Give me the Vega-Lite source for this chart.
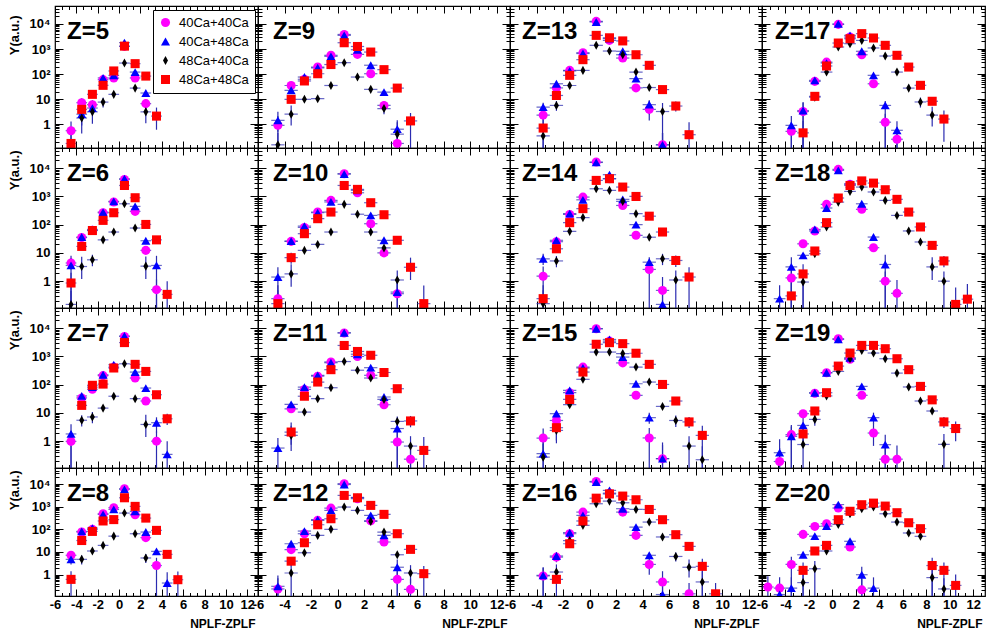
{
"$schema": "https://vega.github.io/schema/vega-lite/v6.json",
"background": "white",
"autosize": {"type": "pad"},
"padding": {"left": 7, "top": 4, "right": 4, "bottom": 2},
"config": {
  "view": {"stroke": "#000", "strokeWidth": 1.2},
  "font": "Liberation Sans",
  "axis": {"domain": false, "grid": false, "tickColor": "#000", "tickWidth": 1, "labelFont": "Liberation Sans", "labelFontWeight": "bold", "labelFontSize": 13, "labelColor": "#000", "titleFont": "Liberation Sans", "titleFontWeight": "bold", "titleFontSize": 13, "titleColor": "#000", "labelFlush": false, "labelOverlap": false},
  "title": {"font": "Liberation Sans", "fontSize": 24, "fontWeight": "bold", "color": "#000"},
  "legend": {"labelFont": "Liberation Sans", "labelFontSize": 13, "labelColor": "#000", "strokeColor": "#000", "fillColor": "#fff", "padding": 6, "rowPadding": 5, "symbolSize": 82, "labelOffset": 7, "symbolStrokeWidth": 0, "symbolOpacity": 1}
},
"data": {"values": [
{"z":5,"s":"40Ca+40Ca","x":-4.5,"y":0.55,"lo":0.05,"hi":1.27},{"z":5,"s":"40Ca+40Ca","x":-3.5,"y":7.2,"lo":4.3,"hi":10.8},{"z":5,"s":"40Ca+40Ca","x":-2.5,"y":6.0,"lo":3.6,"hi":9},{"z":5,"s":"40Ca+40Ca","x":-1.5,"y":60},{"z":5,"s":"40Ca+40Ca","x":-0.5,"y":69},{"z":5,"s":"40Ca+40Ca","x":0.5,"y":1270},{"z":5,"s":"40Ca+40Ca","x":1.5,"y":70},{"z":5,"s":"40Ca+40Ca","x":2.5,"y":6.6,"lo":4,"hi":9.9},
{"z":5,"s":"40Ca+48Ca","x":-3.5,"y":2.5,"lo":0.88,"hi":5.5},{"z":5,"s":"40Ca+48Ca","x":-2.5,"y":4.4,"lo":2.6,"hi":6.6},{"z":5,"s":"40Ca+48Ca","x":-1.5,"y":70},{"z":5,"s":"40Ca+48Ca","x":-0.5,"y":88},{"z":5,"s":"40Ca+48Ca","x":0.5,"y":1800},{"z":5,"s":"40Ca+48Ca","x":1.5,"y":120},{"z":5,"s":"40Ca+48Ca","x":2.5,"y":17.5},
{"z":5,"s":"48Ca+40Ca","x":-3.5,"y":1.76,"lo":0.42,"hi":7.5},{"z":5,"s":"48Ca+40Ca","x":-2.5,"y":3.1,"lo":1.05,"hi":7.5},{"z":5,"s":"48Ca+40Ca","x":-1.5,"y":7.6,"lo":4.6,"hi":11.4},{"z":5,"s":"48Ca+40Ca","x":-0.5,"y":15.5},{"z":5,"s":"48Ca+40Ca","x":0.5,"y":275},{"z":5,"s":"48Ca+40Ca","x":1.5,"y":27.5},{"z":5,"s":"48Ca+40Ca","x":2.5,"y":3.1,"lo":1.1,"hi":6.8},
{"z":5,"s":"48Ca+48Ca","x":-4.5,"y":0.17,"lo":0.05,"hi":0.51},{"z":5,"s":"48Ca+48Ca","x":-3.5,"y":3.9,"lo":1.4,"hi":8.6},{"z":5,"s":"48Ca+48Ca","x":-2.5,"y":15.5},{"z":5,"s":"48Ca+48Ca","x":-1.5,"y":35.5},{"z":5,"s":"48Ca+48Ca","x":-0.5,"y":133},{"z":5,"s":"48Ca+48Ca","x":0.5,"y":1300},{"z":5,"s":"48Ca+48Ca","x":1.5,"y":260},{"z":5,"s":"48Ca+48Ca","x":2.5,"y":83},{"z":5,"s":"48Ca+48Ca","x":3.5,"y":2.1,"lo":0.6,"hi":4.6},
{"z":9,"s":"40Ca+40Ca","x":-4.5,"y":0.9,"lo":0.05,"hi":2.1},{"z":9,"s":"40Ca+40Ca","x":-3.5,"y":35},{"z":9,"s":"40Ca+40Ca","x":-2.5,"y":62},{"z":9,"s":"40Ca+40Ca","x":-1.5,"y":190},{"z":9,"s":"40Ca+40Ca","x":-0.5,"y":560},{"z":9,"s":"40Ca+40Ca","x":0.5,"y":3800},{"z":9,"s":"40Ca+40Ca","x":1.5,"y":610},{"z":9,"s":"40Ca+40Ca","x":2.5,"y":103},{"z":9,"s":"40Ca+40Ca","x":3.5,"y":5.6,"lo":3.4,"hi":8.4},{"z":9,"s":"40Ca+40Ca","x":4.5,"y":0.17,"lo":0.05,"hi":0.51},
{"z":9,"s":"40Ca+48Ca","x":-4.5,"y":1.42,"lo":0.5,"hi":3.1},{"z":9,"s":"40Ca+48Ca","x":-3.5,"y":22.5},{"z":9,"s":"40Ca+48Ca","x":-2.5,"y":76},{"z":9,"s":"40Ca+48Ca","x":-1.5,"y":178},{"z":9,"s":"40Ca+48Ca","x":-0.5,"y":510},{"z":9,"s":"40Ca+48Ca","x":0.5,"y":3500},{"z":9,"s":"40Ca+48Ca","x":1.5,"y":935},{"z":9,"s":"40Ca+48Ca","x":2.5,"y":225},{"z":9,"s":"40Ca+48Ca","x":3.5,"y":19},{"z":9,"s":"40Ca+48Ca","x":4.5,"y":0.63,"lo":0.05,"hi":1.45},
{"z":9,"s":"48Ca+40Ca","x":-4.5,"y":0.15,"lo":0.05,"hi":0.45},{"z":9,"s":"48Ca+40Ca","x":-3.5,"y":2.5,"lo":0.88,"hi":5.5},{"z":9,"s":"48Ca+40Ca","x":-2.5,"y":9.8},{"z":9,"s":"48Ca+40Ca","x":-1.5,"y":10.4},{"z":9,"s":"48Ca+40Ca","x":-0.5,"y":35},{"z":9,"s":"48Ca+40Ca","x":0.5,"y":285},{"z":9,"s":"48Ca+40Ca","x":1.5,"y":76},{"z":9,"s":"48Ca+40Ca","x":2.5,"y":24.5},{"z":9,"s":"48Ca+40Ca","x":3.5,"y":4.2,"lo":2.5,"hi":6.3},{"z":9,"s":"48Ca+40Ca","x":4.5,"y":0.4,"lo":0.05,"hi":1.2},
{"z":9,"s":"48Ca+48Ca","x":-3.5,"y":9.8},{"z":9,"s":"48Ca+48Ca","x":-2.5,"y":53},{"z":9,"s":"48Ca+48Ca","x":-1.5,"y":103},{"z":9,"s":"48Ca+48Ca","x":-0.5,"y":240},{"z":9,"s":"48Ca+48Ca","x":0.5,"y":1780},{"z":9,"s":"48Ca+48Ca","x":1.5,"y":1260},{"z":9,"s":"48Ca+48Ca","x":2.5,"y":755},{"z":9,"s":"48Ca+48Ca","x":3.5,"y":150},{"z":9,"s":"48Ca+48Ca","x":4.5,"y":27.5},{"z":9,"s":"48Ca+48Ca","x":5.5,"y":1.35,"lo":0.05,"hi":2.8},
{"z":13,"s":"40Ca+40Ca","x":-3.5,"y":2.3,"lo":0.8,"hi":5.1},{"z":13,"s":"40Ca+40Ca","x":-2.5,"y":28},{"z":13,"s":"40Ca+40Ca","x":-1.5,"y":140},{"z":13,"s":"40Ca+40Ca","x":-0.5,"y":710},{"z":13,"s":"40Ca+40Ca","x":0.5,"y":12700},{"z":13,"s":"40Ca+40Ca","x":1.5,"y":2200},{"z":13,"s":"40Ca+40Ca","x":2.5,"y":435},{"z":13,"s":"40Ca+40Ca","x":3.5,"y":28},{"z":13,"s":"40Ca+40Ca","x":4.5,"y":3.9,"lo":1.4,"hi":8.6},{"z":13,"s":"40Ca+40Ca","x":5.5,"y":0.15,"lo":0.05,"hi":0.45},
{"z":13,"s":"40Ca+48Ca","x":-3.5,"y":4.8,"lo":2.9,"hi":7.2},{"z":13,"s":"40Ca+48Ca","x":-2.5,"y":41},{"z":13,"s":"40Ca+48Ca","x":-1.5,"y":133},{"z":13,"s":"40Ca+48Ca","x":-0.5,"y":660},{"z":13,"s":"40Ca+48Ca","x":0.5,"y":12000},{"z":13,"s":"40Ca+48Ca","x":1.5,"y":2600},{"z":13,"s":"40Ca+48Ca","x":2.5,"y":810},{"z":13,"s":"40Ca+48Ca","x":3.5,"y":66},{"z":13,"s":"40Ca+48Ca","x":4.5,"y":6,"lo":2.5,"hi":9},{"z":13,"s":"40Ca+48Ca","x":5.5,"y":0.15,"lo":0.05,"hi":0.45},
{"z":13,"s":"48Ca+40Ca","x":-3.5,"y":0.34,"lo":0.05,"hi":1.0},{"z":13,"s":"48Ca+40Ca","x":-2.5,"y":5.6,"lo":3.4,"hi":8.4},{"z":13,"s":"48Ca+40Ca","x":-1.5,"y":35},{"z":13,"s":"48Ca+40Ca","x":-0.5,"y":140},{"z":13,"s":"48Ca+40Ca","x":0.5,"y":1400},{"z":13,"s":"48Ca+40Ca","x":1.5,"y":830},{"z":13,"s":"48Ca+40Ca","x":2.5,"y":590},{"z":13,"s":"48Ca+40Ca","x":3.5,"y":120},{"z":13,"s":"48Ca+40Ca","x":4.5,"y":29},{"z":13,"s":"48Ca+40Ca","x":5.5,"y":3.2,"lo":0.05,"hi":7},
{"z":13,"s":"48Ca+48Ca","x":-3.5,"y":0.7,"lo":0.05,"hi":1.6},{"z":13,"s":"48Ca+48Ca","x":-2.5,"y":14},{"z":13,"s":"48Ca+48Ca","x":-1.5,"y":89},{"z":13,"s":"48Ca+48Ca","x":-0.5,"y":375},{"z":13,"s":"48Ca+48Ca","x":0.5,"y":3500},{"z":13,"s":"48Ca+48Ca","x":1.5,"y":2800},{"z":13,"s":"48Ca+48Ca","x":2.5,"y":2100},{"z":13,"s":"48Ca+48Ca","x":3.5,"y":590},{"z":13,"s":"48Ca+48Ca","x":4.5,"y":223},{"z":13,"s":"48Ca+48Ca","x":5.5,"y":24},{"z":13,"s":"48Ca+48Ca","x":6.5,"y":5.3,"lo":3.2,"hi":8},{"z":13,"s":"48Ca+48Ca","x":7.5,"y":0.38,"lo":0.05,"hi":1.2},
{"z":17,"s":"40Ca+40Ca","x":-3.5,"y":0.52,"lo":0.05,"hi":1.2},{"z":17,"s":"40Ca+40Ca","x":-2.5,"y":3.2,"lo":0.05,"hi":7},{"z":17,"s":"40Ca+40Ca","x":-1.5,"y":51},{"z":17,"s":"40Ca+40Ca","x":-0.5,"y":300},{"z":17,"s":"40Ca+40Ca","x":0.5,"y":9600},{"z":17,"s":"40Ca+40Ca","x":1.5,"y":3000},{"z":17,"s":"40Ca+40Ca","x":2.5,"y":590},{"z":17,"s":"40Ca+40Ca","x":3.5,"y":41},{"z":17,"s":"40Ca+40Ca","x":4.5,"y":1.2,"lo":0.05,"hi":2.6},{"z":17,"s":"40Ca+40Ca","x":5.5,"y":0.25,"lo":0.05,"hi":0.75},
{"z":17,"s":"40Ca+48Ca","x":-3.5,"y":0.9,"lo":0.05,"hi":2.1},{"z":17,"s":"40Ca+48Ca","x":-2.5,"y":3.5,"lo":0.05,"hi":7.7},{"z":17,"s":"40Ca+48Ca","x":-1.5,"y":56},{"z":17,"s":"40Ca+48Ca","x":-0.5,"y":275},{"z":17,"s":"40Ca+48Ca","x":0.5,"y":10000},{"z":17,"s":"40Ca+48Ca","x":1.5,"y":3500},{"z":17,"s":"40Ca+48Ca","x":2.5,"y":810},{"z":17,"s":"40Ca+48Ca","x":3.5,"y":89},{"z":17,"s":"40Ca+48Ca","x":4.5,"y":5.6,"lo":0.05,"hi":8.4},{"z":17,"s":"40Ca+48Ca","x":5.5,"y":0.57,"lo":0.05,"hi":1.3},
{"z":17,"s":"48Ca+40Ca","x":-1.5,"y":12},{"z":17,"s":"48Ca+40Ca","x":-0.5,"y":120},{"z":17,"s":"48Ca+40Ca","x":0.5,"y":1200},{"z":17,"s":"48Ca+40Ca","x":1.5,"y":1630},{"z":17,"s":"48Ca+40Ca","x":2.5,"y":2200},{"z":17,"s":"48Ca+40Ca","x":3.5,"y":1100},{"z":17,"s":"48Ca+40Ca","x":4.5,"y":525},{"z":17,"s":"48Ca+40Ca","x":5.5,"y":120},{"z":17,"s":"48Ca+40Ca","x":6.5,"y":27.5},{"z":17,"s":"48Ca+40Ca","x":7.5,"y":7.7,"lo":4.6,"hi":11.5},{"z":17,"s":"48Ca+40Ca","x":8.5,"y":2.3,"lo":0.8,"hi":5},
{"z":17,"s":"48Ca+48Ca","x":-2.5,"y":0.45,"lo":0.05,"hi":1.35},{"z":17,"s":"48Ca+48Ca","x":-1.5,"y":12.9},{"z":17,"s":"48Ca+48Ca","x":-0.5,"y":210},{"z":17,"s":"48Ca+48Ca","x":0.5,"y":1730},{"z":17,"s":"48Ca+48Ca","x":1.5,"y":2580},{"z":17,"s":"48Ca+48Ca","x":2.5,"y":4100},{"z":17,"s":"48Ca+48Ca","x":3.5,"y":2750},{"z":17,"s":"48Ca+48Ca","x":4.5,"y":1400},{"z":17,"s":"48Ca+48Ca","x":5.5,"y":560},{"z":17,"s":"48Ca+48Ca","x":6.5,"y":190},{"z":17,"s":"48Ca+48Ca","x":7.5,"y":35.5},{"z":17,"s":"48Ca+48Ca","x":8.5,"y":8.2},{"z":17,"s":"48Ca+48Ca","x":9.5,"y":1.6,"lo":0.2,"hi":3.5},
{"z":6,"s":"40Ca+40Ca","x":-4.5,"y":4.4,"lo":2.6,"hi":6.6},{"z":6,"s":"40Ca+40Ca","x":-3.5,"y":35},{"z":6,"s":"40Ca+40Ca","x":-2.5,"y":63},{"z":6,"s":"40Ca+40Ca","x":-1.5,"y":265},{"z":6,"s":"40Ca+40Ca","x":-0.5,"y":640},{"z":6,"s":"40Ca+40Ca","x":0.5,"y":4000},{"z":6,"s":"40Ca+40Ca","x":1.5,"y":295},{"z":6,"s":"40Ca+40Ca","x":2.5,"y":12.3},{"z":6,"s":"40Ca+40Ca","x":3.5,"y":0.5,"lo":0.05,"hi":1.15},
{"z":6,"s":"40Ca+48Ca","x":-4.5,"y":3.6,"lo":0.05,"hi":7.9},{"z":6,"s":"40Ca+48Ca","x":-3.5,"y":36.5},{"z":6,"s":"40Ca+48Ca","x":-2.5,"y":68},{"z":6,"s":"40Ca+48Ca","x":-1.5,"y":280},{"z":6,"s":"40Ca+48Ca","x":-0.5,"y":670},{"z":6,"s":"40Ca+48Ca","x":0.5,"y":4250},{"z":6,"s":"40Ca+48Ca","x":1.5,"y":445},{"z":6,"s":"40Ca+48Ca","x":2.5,"y":27},{"z":6,"s":"40Ca+48Ca","x":3.5,"y":3.6,"lo":0.05,"hi":7.9},
{"z":6,"s":"48Ca+40Ca","x":-4.5,"y":0.15,"lo":0.05,"hi":0.45},{"z":6,"s":"48Ca+40Ca","x":-3.5,"y":3.3,"lo":1.2,"hi":7.3},{"z":6,"s":"48Ca+40Ca","x":-2.5,"y":5.7,"lo":3.4,"hi":8.6},{"z":6,"s":"48Ca+40Ca","x":-1.5,"y":29},{"z":6,"s":"48Ca+40Ca","x":-0.5,"y":55},{"z":6,"s":"48Ca+40Ca","x":0.5,"y":550},{"z":6,"s":"48Ca+40Ca","x":1.5,"y":76},{"z":6,"s":"48Ca+40Ca","x":2.5,"y":3.4,"lo":1.2,"hi":7.5},
{"z":6,"s":"48Ca+48Ca","x":-4.5,"y":0.86,"lo":0.05,"hi":2},{"z":6,"s":"48Ca+48Ca","x":-3.5,"y":17},{"z":6,"s":"48Ca+48Ca","x":-2.5,"y":62},{"z":6,"s":"48Ca+48Ca","x":-1.5,"y":142},{"z":6,"s":"48Ca+48Ca","x":-0.5,"y":265},{"z":6,"s":"48Ca+48Ca","x":0.5,"y":2450},{"z":6,"s":"48Ca+48Ca","x":1.5,"y":900},{"z":6,"s":"48Ca+48Ca","x":2.5,"y":102},{"z":6,"s":"48Ca+48Ca","x":3.5,"y":29},{"z":6,"s":"48Ca+48Ca","x":4.5,"y":0.34,"lo":0.05,"hi":1.0},
{"z":10,"s":"40Ca+40Ca","x":-4.5,"y":0.24,"lo":0.05,"hi":0.72},{"z":10,"s":"40Ca+40Ca","x":-3.5,"y":25.6},{"z":10,"s":"40Ca+40Ca","x":-2.5,"y":80},{"z":10,"s":"40Ca+40Ca","x":-1.5,"y":280},{"z":10,"s":"40Ca+40Ca","x":-0.5,"y":725},{"z":10,"s":"40Ca+40Ca","x":0.5,"y":6400},{"z":10,"s":"40Ca+40Ca","x":1.5,"y":1350},{"z":10,"s":"40Ca+40Ca","x":2.5,"y":108},{"z":10,"s":"40Ca+40Ca","x":3.5,"y":10},{"z":10,"s":"40Ca+40Ca","x":4.5,"y":0.36,"lo":0.05,"hi":1.08},
{"z":10,"s":"40Ca+48Ca","x":-4.5,"y":1.4,"lo":0.05,"hi":3.1},{"z":10,"s":"40Ca+48Ca","x":-3.5,"y":26},{"z":10,"s":"40Ca+48Ca","x":-2.5,"y":89},{"z":10,"s":"40Ca+48Ca","x":-1.5,"y":265},{"z":10,"s":"40Ca+48Ca","x":-0.5,"y":640},{"z":10,"s":"40Ca+48Ca","x":0.5,"y":6200},{"z":10,"s":"40Ca+48Ca","x":1.5,"y":1650},{"z":10,"s":"40Ca+48Ca","x":2.5,"y":213},{"z":10,"s":"40Ca+48Ca","x":3.5,"y":28},{"z":10,"s":"40Ca+48Ca","x":4.5,"y":0.41,"lo":0.05,"hi":1.2},
{"z":10,"s":"48Ca+40Ca","x":-3.5,"y":1.8,"lo":0.63,"hi":4},{"z":10,"s":"48Ca+40Ca","x":-2.5,"y":12.3},{"z":10,"s":"48Ca+40Ca","x":-1.5,"y":20},{"z":10,"s":"48Ca+40Ca","x":-0.5,"y":55},{"z":10,"s":"48Ca+40Ca","x":0.5,"y":525},{"z":10,"s":"48Ca+40Ca","x":1.5,"y":235},{"z":10,"s":"48Ca+40Ca","x":2.5,"y":55},{"z":10,"s":"48Ca+40Ca","x":3.5,"y":15},{"z":10,"s":"48Ca+40Ca","x":4.5,"y":1.1,"lo":0.39,"hi":2.4},
{"z":10,"s":"48Ca+48Ca","x":-4.5,"y":0.16,"lo":0.05,"hi":0.48},{"z":10,"s":"48Ca+48Ca","x":-3.5,"y":6.8,"lo":4.1,"hi":10.2},{"z":10,"s":"48Ca+48Ca","x":-2.5,"y":48},{"z":10,"s":"48Ca+48Ca","x":-1.5,"y":163},{"z":10,"s":"48Ca+48Ca","x":-0.5,"y":280},{"z":10,"s":"48Ca+48Ca","x":0.5,"y":2450},{"z":10,"s":"48Ca+48Ca","x":1.5,"y":1780},{"z":10,"s":"48Ca+48Ca","x":2.5,"y":600},{"z":10,"s":"48Ca+48Ca","x":3.5,"y":225},{"z":10,"s":"48Ca+48Ca","x":4.5,"y":28},{"z":10,"s":"48Ca+48Ca","x":5.5,"y":3.1,"lo":1.1,"hi":6.8},{"z":10,"s":"48Ca+48Ca","x":6.5,"y":0.16,"lo":0.05,"hi":0.7},
{"z":14,"s":"40Ca+40Ca","x":-3.5,"y":1.5,"lo":0.05,"hi":3.3},{"z":14,"s":"40Ca+40Ca","x":-2.5,"y":25},{"z":14,"s":"40Ca+40Ca","x":-1.5,"y":230},{"z":14,"s":"40Ca+40Ca","x":-0.5,"y":950},{"z":14,"s":"40Ca+40Ca","x":0.5,"y":16500},{"z":14,"s":"40Ca+40Ca","x":1.5,"y":4250},{"z":14,"s":"40Ca+40Ca","x":2.5,"y":480},{"z":14,"s":"40Ca+40Ca","x":3.5,"y":42},{"z":14,"s":"40Ca+40Ca","x":4.5,"y":2.6,"lo":0.05,"hi":5.7},{"z":14,"s":"40Ca+40Ca","x":5.5,"y":0.47,"lo":0.05,"hi":1.4},
{"z":14,"s":"40Ca+48Ca","x":-3.5,"y":6.2,"lo":3.7,"hi":9.3},{"z":14,"s":"40Ca+48Ca","x":-2.5,"y":28},{"z":14,"s":"40Ca+48Ca","x":-1.5,"y":245},{"z":14,"s":"40Ca+48Ca","x":-0.5,"y":760},{"z":14,"s":"40Ca+48Ca","x":0.5,"y":16000},{"z":14,"s":"40Ca+48Ca","x":1.5,"y":5900},{"z":14,"s":"40Ca+48Ca","x":2.5,"y":790},{"z":14,"s":"40Ca+48Ca","x":3.5,"y":100},{"z":14,"s":"40Ca+48Ca","x":4.5,"y":4.7,"lo":2.8,"hi":7},{"z":14,"s":"40Ca+48Ca","x":5.5,"y":0.15,"lo":0.05,"hi":0.45},
{"z":14,"s":"48Ca+40Ca","x":-3.5,"y":0.16,"lo":0.05,"hi":0.48},{"z":14,"s":"48Ca+40Ca","x":-2.5,"y":5.2,"lo":3.1,"hi":7.8},{"z":14,"s":"48Ca+40Ca","x":-1.5,"y":58},{"z":14,"s":"48Ca+40Ca","x":-0.5,"y":178},{"z":14,"s":"48Ca+40Ca","x":0.5,"y":1870},{"z":14,"s":"48Ca+40Ca","x":1.5,"y":1640},{"z":14,"s":"48Ca+40Ca","x":2.5,"y":670},{"z":14,"s":"48Ca+40Ca","x":3.5,"y":245},{"z":14,"s":"48Ca+40Ca","x":4.5,"y":36},{"z":14,"s":"48Ca+40Ca","x":5.5,"y":6.2,"lo":3.7,"hi":9.3},{"z":14,"s":"48Ca+40Ca","x":6.5,"y":1.1,"lo":0.05,"hi":2.4},
{"z":14,"s":"48Ca+48Ca","x":-3.5,"y":0.24,"lo":0.05,"hi":0.72},{"z":14,"s":"48Ca+48Ca","x":-2.5,"y":14},{"z":14,"s":"48Ca+48Ca","x":-1.5,"y":118},{"z":14,"s":"48Ca+48Ca","x":-0.5,"y":370},{"z":14,"s":"48Ca+48Ca","x":0.5,"y":3700},{"z":14,"s":"48Ca+48Ca","x":1.5,"y":4250},{"z":14,"s":"48Ca+48Ca","x":2.5,"y":2150},{"z":14,"s":"48Ca+48Ca","x":3.5,"y":1000},{"z":14,"s":"48Ca+48Ca","x":4.5,"y":200},{"z":14,"s":"48Ca+48Ca","x":5.5,"y":55},{"z":14,"s":"48Ca+48Ca","x":6.5,"y":5.4,"lo":3.2,"hi":8.1},{"z":14,"s":"48Ca+48Ca","x":7.5,"y":1.4,"lo":0.05,"hi":3.1},
{"z":18,"s":"40Ca+40Ca","x":-3.5,"y":1.3,"lo":0.05,"hi":2.9},{"z":18,"s":"40Ca+40Ca","x":-2.5,"y":21},{"z":18,"s":"40Ca+40Ca","x":-1.5,"y":60},{"z":18,"s":"40Ca+40Ca","x":-0.5,"y":525},{"z":18,"s":"40Ca+40Ca","x":0.5,"y":9100},{"z":18,"s":"40Ca+40Ca","x":1.5,"y":2700},{"z":18,"s":"40Ca+40Ca","x":2.5,"y":350},{"z":18,"s":"40Ca+40Ca","x":3.5,"y":15.3},{"z":18,"s":"40Ca+40Ca","x":4.5,"y":1.0,"lo":0.05,"hi":2.2},{"z":18,"s":"40Ca+40Ca","x":5.5,"y":0.37,"lo":0.05,"hi":1.1},
{"z":18,"s":"40Ca+48Ca","x":-4.5,"y":0.24,"lo":0.05,"hi":0.72},{"z":18,"s":"40Ca+48Ca","x":-3.5,"y":3.2,"lo":0.05,"hi":7},{"z":18,"s":"40Ca+48Ca","x":-2.5,"y":8.2},{"z":18,"s":"40Ca+48Ca","x":-1.5,"y":68},{"z":18,"s":"40Ca+48Ca","x":-0.5,"y":390},{"z":18,"s":"40Ca+48Ca","x":0.5,"y":8400},{"z":18,"s":"40Ca+48Ca","x":1.5,"y":2800},{"z":18,"s":"40Ca+48Ca","x":2.5,"y":550},{"z":18,"s":"40Ca+48Ca","x":3.5,"y":36.5},{"z":18,"s":"40Ca+48Ca","x":4.5,"y":3.9,"lo":0.05,"hi":8.6},
{"z":18,"s":"48Ca+40Ca","x":-2.5,"y":0.93,"lo":0.05,"hi":2.1},{"z":18,"s":"48Ca+40Ca","x":-1.5,"y":9.4},{"z":18,"s":"48Ca+40Ca","x":-0.5,"y":83},{"z":18,"s":"48Ca+40Ca","x":0.5,"y":630},{"z":18,"s":"48Ca+40Ca","x":1.5,"y":1510},{"z":18,"s":"48Ca+40Ca","x":2.5,"y":2150},{"z":18,"s":"48Ca+40Ca","x":3.5,"y":1440},{"z":18,"s":"48Ca+40Ca","x":4.5,"y":725},{"z":18,"s":"48Ca+40Ca","x":5.5,"y":213},{"z":18,"s":"48Ca+40Ca","x":6.5,"y":60},{"z":18,"s":"48Ca+40Ca","x":7.5,"y":24.4},{"z":18,"s":"48Ca+40Ca","x":8.5,"y":3.2,"lo":1.1,"hi":7},{"z":18,"s":"48Ca+40Ca","x":9.5,"y":1.0,"lo":0.05,"hi":2.2},
{"z":18,"s":"48Ca+48Ca","x":-3.5,"y":0.3,"lo":0.05,"hi":0.9},{"z":18,"s":"48Ca+48Ca","x":-2.5,"y":1.8,"lo":0.05,"hi":4},{"z":18,"s":"48Ca+48Ca","x":-1.5,"y":11.7},{"z":18,"s":"48Ca+48Ca","x":-0.5,"y":118},{"z":18,"s":"48Ca+48Ca","x":0.5,"y":880},{"z":18,"s":"48Ca+48Ca","x":1.5,"y":2450},{"z":18,"s":"48Ca+48Ca","x":2.5,"y":3550},{"z":18,"s":"48Ca+48Ca","x":3.5,"y":2970},{"z":18,"s":"48Ca+48Ca","x":4.5,"y":1730},{"z":18,"s":"48Ca+48Ca","x":5.5,"y":790},{"z":18,"s":"48Ca+48Ca","x":6.5,"y":280},{"z":18,"s":"48Ca+48Ca","x":7.5,"y":83},{"z":18,"s":"48Ca+48Ca","x":8.5,"y":18.5},{"z":18,"s":"48Ca+48Ca","x":9.5,"y":5.2,"lo":3.1,"hi":7.8},{"z":18,"s":"48Ca+48Ca","x":10.5,"y":0.15,"lo":0.05,"hi":0.6},{"z":18,"s":"48Ca+48Ca","x":11.5,"y":0.23,"lo":0.05,"hi":0.8},
{"z":7,"s":"40Ca+40Ca","x":-4.5,"y":0.98,"lo":0.05,"hi":2.3},{"z":7,"s":"40Ca+40Ca","x":-3.5,"y":34},{"z":7,"s":"40Ca+40Ca","x":-2.5,"y":69},{"z":7,"s":"40Ca+40Ca","x":-1.5,"y":210},{"z":7,"s":"40Ca+40Ca","x":-0.5,"y":420},{"z":7,"s":"40Ca+40Ca","x":0.5,"y":5100},{"z":7,"s":"40Ca+40Ca","x":1.5,"y":172},{"z":7,"s":"40Ca+40Ca","x":2.5,"y":26.5},{"z":7,"s":"40Ca+40Ca","x":3.5,"y":1.0,"lo":0.05,"hi":2.2},
{"z":7,"s":"40Ca+48Ca","x":-4.5,"y":1.8,"lo":0.05,"hi":4},{"z":7,"s":"40Ca+48Ca","x":-3.5,"y":40},{"z":7,"s":"40Ca+48Ca","x":-2.5,"y":82},{"z":7,"s":"40Ca+48Ca","x":-1.5,"y":225},{"z":7,"s":"40Ca+48Ca","x":-0.5,"y":510},{"z":7,"s":"40Ca+48Ca","x":0.5,"y":5300},{"z":7,"s":"40Ca+48Ca","x":1.5,"y":280},{"z":7,"s":"40Ca+48Ca","x":2.5,"y":76},{"z":7,"s":"40Ca+48Ca","x":3.5,"y":4.5,"lo":2,"hi":7},{"z":7,"s":"40Ca+48Ca","x":4.5,"y":0.34,"lo":0.05,"hi":1.0},
{"z":7,"s":"48Ca+40Ca","x":-3.5,"y":5.5,"lo":3.3,"hi":8.3},{"z":7,"s":"48Ca+40Ca","x":-2.5,"y":7.2,"lo":4.3,"hi":10.8},{"z":7,"s":"48Ca+40Ca","x":-1.5,"y":14.8},{"z":7,"s":"48Ca+40Ca","x":-0.5,"y":39},{"z":7,"s":"48Ca+40Ca","x":0.5,"y":550},{"z":7,"s":"48Ca+40Ca","x":1.5,"y":32},{"z":7,"s":"48Ca+40Ca","x":2.5,"y":3.9,"lo":1.4,"hi":8.6},
{"z":7,"s":"48Ca+48Ca","x":-3.5,"y":18.5},{"z":7,"s":"48Ca+48Ca","x":-2.5,"y":95},{"z":7,"s":"48Ca+48Ca","x":-1.5,"y":105},{"z":7,"s":"48Ca+48Ca","x":-0.5,"y":390},{"z":7,"s":"48Ca+48Ca","x":0.5,"y":3100},{"z":7,"s":"48Ca+48Ca","x":1.5,"y":525},{"z":7,"s":"48Ca+48Ca","x":2.5,"y":295},{"z":7,"s":"48Ca+48Ca","x":3.5,"y":44},{"z":7,"s":"48Ca+48Ca","x":4.5,"y":6.2,"lo":3.7,"hi":9.3},
{"z":11,"s":"40Ca+40Ca","x":-3.5,"y":14},{"z":11,"s":"40Ca+40Ca","x":-2.5,"y":68},{"z":11,"s":"40Ca+40Ca","x":-1.5,"y":200},{"z":11,"s":"40Ca+40Ca","x":-0.5,"y":640},{"z":11,"s":"40Ca+40Ca","x":0.5,"y":6800},{"z":11,"s":"40Ca+40Ca","x":1.5,"y":1000},{"z":11,"s":"40Ca+40Ca","x":2.5,"y":215},{"z":11,"s":"40Ca+40Ca","x":3.5,"y":19.5},{"z":11,"s":"40Ca+40Ca","x":4.5,"y":0.93,"lo":0.05,"hi":2.1},{"z":11,"s":"40Ca+40Ca","x":5.5,"y":0.23,"lo":0.05,"hi":0.7},
{"z":11,"s":"40Ca+48Ca","x":-4.5,"y":0.57,"lo":0.05,"hi":1.3},{"z":11,"s":"40Ca+48Ca","x":-3.5,"y":20},{"z":11,"s":"40Ca+48Ca","x":-2.5,"y":82},{"z":11,"s":"40Ca+48Ca","x":-1.5,"y":215},{"z":11,"s":"40Ca+48Ca","x":-0.5,"y":600},{"z":11,"s":"40Ca+48Ca","x":0.5,"y":6900},{"z":11,"s":"40Ca+48Ca","x":1.5,"y":1200},{"z":11,"s":"40Ca+48Ca","x":2.5,"y":400},{"z":11,"s":"40Ca+48Ca","x":3.5,"y":36.6},{"z":11,"s":"40Ca+48Ca","x":4.5,"y":2.8,"lo":0.05,"hi":6.2},
{"z":11,"s":"48Ca+40Ca","x":-3.5,"y":1.6,"lo":0.45,"hi":3.5},{"z":11,"s":"48Ca+40Ca","x":-2.5,"y":10.7},{"z":11,"s":"48Ca+40Ca","x":-1.5,"y":32},{"z":11,"s":"48Ca+40Ca","x":-0.5,"y":78},{"z":11,"s":"48Ca+40Ca","x":0.5,"y":660},{"z":11,"s":"48Ca+40Ca","x":1.5,"y":325},{"z":11,"s":"48Ca+40Ca","x":2.5,"y":172},{"z":11,"s":"48Ca+40Ca","x":3.5,"y":30},{"z":11,"s":"48Ca+40Ca","x":4.5,"y":5,"lo":3,"hi":7.5},{"z":11,"s":"48Ca+40Ca","x":5.5,"y":0.67,"lo":0.05,"hi":1.5},
{"z":11,"s":"48Ca+48Ca","x":-3.5,"y":2.1,"lo":0.74,"hi":4.6},{"z":11,"s":"48Ca+48Ca","x":-2.5,"y":39},{"z":11,"s":"48Ca+48Ca","x":-1.5,"y":124},{"z":11,"s":"48Ca+48Ca","x":-0.5,"y":340},{"z":11,"s":"48Ca+48Ca","x":0.5,"y":2450},{"z":11,"s":"48Ca+48Ca","x":1.5,"y":1500},{"z":11,"s":"48Ca+48Ca","x":2.5,"y":1100},{"z":11,"s":"48Ca+48Ca","x":3.5,"y":270},{"z":11,"s":"48Ca+48Ca","x":4.5,"y":72},{"z":11,"s":"48Ca+48Ca","x":5.5,"y":5.2,"lo":3.1,"hi":7.8},{"z":11,"s":"48Ca+48Ca","x":6.5,"y":0.47,"lo":0.05,"hi":1.4},
{"z":15,"s":"40Ca+40Ca","x":-3.5,"y":1.29,"lo":0.45,"hi":2.8},{"z":15,"s":"40Ca+40Ca","x":-2.5,"y":5.4,"lo":3.2,"hi":8.1},{"z":15,"s":"40Ca+40Ca","x":-1.5,"y":52},{"z":15,"s":"40Ca+40Ca","x":-0.5,"y":420},{"z":15,"s":"40Ca+40Ca","x":0.5,"y":9600},{"z":15,"s":"40Ca+40Ca","x":1.5,"y":3500},{"z":15,"s":"40Ca+40Ca","x":2.5,"y":590},{"z":15,"s":"40Ca+40Ca","x":3.5,"y":42},{"z":15,"s":"40Ca+40Ca","x":4.5,"y":1.3,"lo":0.05,"hi":2.9},{"z":15,"s":"40Ca+40Ca","x":5.5,"y":0.24,"lo":0.05,"hi":0.72},
{"z":15,"s":"40Ca+48Ca","x":-3.5,"y":0.36,"lo":0.05,"hi":1.08},{"z":15,"s":"40Ca+48Ca","x":-2.5,"y":9.4},{"z":15,"s":"40Ca+48Ca","x":-1.5,"y":63},{"z":15,"s":"40Ca+48Ca","x":-0.5,"y":390},{"z":15,"s":"40Ca+48Ca","x":0.5,"y":9600},{"z":15,"s":"40Ca+48Ca","x":1.5,"y":4000},{"z":15,"s":"40Ca+48Ca","x":2.5,"y":950},{"z":15,"s":"40Ca+48Ca","x":3.5,"y":108},{"z":15,"s":"40Ca+48Ca","x":4.5,"y":6.8,"lo":4.1,"hi":10.2},{"z":15,"s":"40Ca+48Ca","x":5.5,"y":0.24,"lo":0.05,"hi":0.9},
{"z":15,"s":"48Ca+40Ca","x":-3.5,"y":0.27,"lo":0.05,"hi":0.8},{"z":15,"s":"48Ca+40Ca","x":-2.5,"y":2.4,"lo":0.84,"hi":5.3},{"z":15,"s":"48Ca+40Ca","x":-1.5,"y":19.6},{"z":15,"s":"48Ca+40Ca","x":-0.5,"y":155},{"z":15,"s":"48Ca+40Ca","x":0.5,"y":1430},{"z":15,"s":"48Ca+40Ca","x":1.5,"y":1430},{"z":15,"s":"48Ca+40Ca","x":2.5,"y":1260},{"z":15,"s":"48Ca+40Ca","x":3.5,"y":420},{"z":15,"s":"48Ca+40Ca","x":4.5,"y":124},{"z":15,"s":"48Ca+40Ca","x":5.5,"y":17},{"z":15,"s":"48Ca+40Ca","x":6.5,"y":5.4,"lo":3.2,"hi":8.1},{"z":15,"s":"48Ca+40Ca","x":7.5,"y":0.67,"lo":0.05,"hi":1.5},{"z":15,"s":"48Ca+40Ca","x":8.5,"y":0.22,"lo":0.05,"hi":0.66},
{"z":15,"s":"48Ca+48Ca","x":-2.5,"y":3.0,"lo":1.05,"hi":6.6},{"z":15,"s":"48Ca+48Ca","x":-1.5,"y":30},{"z":15,"s":"48Ca+48Ca","x":-0.5,"y":280},{"z":15,"s":"48Ca+48Ca","x":0.5,"y":2700},{"z":15,"s":"48Ca+48Ca","x":1.5,"y":3080},{"z":15,"s":"48Ca+48Ca","x":2.5,"y":2840},{"z":15,"s":"48Ca+48Ca","x":3.5,"y":1300},{"z":15,"s":"48Ca+48Ca","x":4.5,"y":525},{"z":15,"s":"48Ca+48Ca","x":5.5,"y":102},{"z":15,"s":"48Ca+48Ca","x":6.5,"y":26.4},{"z":15,"s":"48Ca+48Ca","x":7.5,"y":4.8,"lo":2.9,"hi":7.2},{"z":15,"s":"48Ca+48Ca","x":8.5,"y":1.6,"lo":0.05,"hi":3.5},
{"z":19,"s":"40Ca+40Ca","x":-4.5,"y":0.19,"lo":0.05,"hi":0.57},{"z":19,"s":"40Ca+40Ca","x":-3.5,"y":1.7,"lo":0.05,"hi":3.7},{"z":19,"s":"40Ca+40Ca","x":-2.5,"y":9.4},{"z":19,"s":"40Ca+40Ca","x":-1.5,"y":50},{"z":19,"s":"40Ca+40Ca","x":-0.5,"y":265},{"z":19,"s":"40Ca+40Ca","x":0.5,"y":4250},{"z":19,"s":"40Ca+40Ca","x":1.5,"y":800},{"z":19,"s":"40Ca+40Ca","x":2.5,"y":42},{"z":19,"s":"40Ca+40Ca","x":3.5,"y":1.94,"lo":0.68,"hi":4.3},{"z":19,"s":"40Ca+40Ca","x":4.5,"y":0.23,"lo":0.05,"hi":0.7},{"z":19,"s":"40Ca+40Ca","x":5.5,"y":0.23,"lo":0.05,"hi":0.7},
{"z":19,"s":"40Ca+48Ca","x":-4.5,"y":0.39,"lo":0.05,"hi":1.17},{"z":19,"s":"40Ca+48Ca","x":-3.5,"y":1.48,"lo":0.05,"hi":3.3},{"z":19,"s":"40Ca+48Ca","x":-2.5,"y":3.6,"lo":1.3,"hi":7.9},{"z":19,"s":"40Ca+48Ca","x":-1.5,"y":52},{"z":19,"s":"40Ca+48Ca","x":-0.5,"y":265},{"z":19,"s":"40Ca+48Ca","x":0.5,"y":4000},{"z":19,"s":"40Ca+48Ca","x":1.5,"y":900},{"z":19,"s":"40Ca+48Ca","x":2.5,"y":87},{"z":19,"s":"40Ca+48Ca","x":3.5,"y":6.8,"lo":4.1,"hi":10.2},{"z":19,"s":"40Ca+48Ca","x":4.5,"y":0.75,"lo":0.05,"hi":1.7},
{"z":19,"s":"48Ca+40Ca","x":-2.5,"y":0.76,"lo":0.05,"hi":1.75},{"z":19,"s":"48Ca+40Ca","x":-1.5,"y":5.9,"lo":3.5,"hi":8.9},{"z":19,"s":"48Ca+40Ca","x":-0.5,"y":40},{"z":19,"s":"48Ca+40Ca","x":0.5,"y":295},{"z":19,"s":"48Ca+40Ca","x":1.5,"y":830},{"z":19,"s":"48Ca+40Ca","x":2.5,"y":1630},{"z":19,"s":"48Ca+40Ca","x":3.5,"y":1320},{"z":19,"s":"48Ca+40Ca","x":4.5,"y":830},{"z":19,"s":"48Ca+40Ca","x":5.5,"y":257},{"z":19,"s":"48Ca+40Ca","x":6.5,"y":83},{"z":19,"s":"48Ca+40Ca","x":7.5,"y":26.4},{"z":19,"s":"48Ca+40Ca","x":8.5,"y":11.7},{"z":19,"s":"48Ca+40Ca","x":9.5,"y":0.77,"lo":0.05,"hi":1.8},
{"z":19,"s":"48Ca+48Ca","x":-2.5,"y":1.8,"lo":0.63,"hi":4},{"z":19,"s":"48Ca+48Ca","x":-1.5,"y":11.7},{"z":19,"s":"48Ca+48Ca","x":-0.5,"y":52},{"z":19,"s":"48Ca+48Ca","x":0.5,"y":455},{"z":19,"s":"48Ca+48Ca","x":1.5,"y":1320},{"z":19,"s":"48Ca+48Ca","x":2.5,"y":2460},{"z":19,"s":"48Ca+48Ca","x":3.5,"y":2460},{"z":19,"s":"48Ca+48Ca","x":4.5,"y":1880},{"z":19,"s":"48Ca+48Ca","x":5.5,"y":830},{"z":19,"s":"48Ca+48Ca","x":6.5,"y":340},{"z":19,"s":"48Ca+48Ca","x":7.5,"y":87},{"z":19,"s":"48Ca+48Ca","x":8.5,"y":29},{"z":19,"s":"48Ca+48Ca","x":9.5,"y":4.8,"lo":2.9,"hi":7.2},{"z":19,"s":"48Ca+48Ca","x":10.5,"y":2.8,"lo":1,"hi":5},
{"z":8,"s":"40Ca+40Ca","x":-4.5,"y":7.1,"lo":4.3,"hi":10.6},{"z":8,"s":"40Ca+40Ca","x":-3.5,"y":76},{"z":8,"s":"40Ca+40Ca","x":-2.5,"y":100},{"z":8,"s":"40Ca+40Ca","x":-1.5,"y":490},{"z":8,"s":"40Ca+40Ca","x":-0.5,"y":910},{"z":8,"s":"40Ca+40Ca","x":0.5,"y":6300},{"z":8,"s":"40Ca+40Ca","x":1.5,"y":445},{"z":8,"s":"40Ca+40Ca","x":2.5,"y":43},{"z":8,"s":"40Ca+40Ca","x":3.5,"y":2.5,"lo":0.05,"hi":5.5},
{"z":8,"s":"40Ca+48Ca","x":-4.5,"y":4.7,"lo":2.8,"hi":7},{"z":8,"s":"40Ca+48Ca","x":-3.5,"y":81},{"z":8,"s":"40Ca+48Ca","x":-2.5,"y":114},{"z":8,"s":"40Ca+48Ca","x":-1.5,"y":460},{"z":8,"s":"40Ca+48Ca","x":-0.5,"y":760},{"z":8,"s":"40Ca+48Ca","x":0.5,"y":5900},{"z":8,"s":"40Ca+48Ca","x":1.5,"y":620},{"z":8,"s":"40Ca+48Ca","x":2.5,"y":76},{"z":8,"s":"40Ca+48Ca","x":3.5,"y":10.6},{"z":8,"s":"40Ca+48Ca","x":4.5,"y":0.42,"lo":0.05,"hi":1.26},
{"z":8,"s":"48Ca+40Ca","x":-3.5,"y":4.7,"lo":2.8,"hi":7},{"z":8,"s":"48Ca+40Ca","x":-2.5,"y":11},{"z":8,"s":"48Ca+40Ca","x":-1.5,"y":19.5},{"z":8,"s":"48Ca+40Ca","x":-0.5,"y":50},{"z":8,"s":"48Ca+40Ca","x":0.5,"y":525},{"z":8,"s":"48Ca+40Ca","x":1.5,"y":64},{"z":8,"s":"48Ca+40Ca","x":2.5,"y":5.4,"lo":3.2,"hi":8.1},
{"z":8,"s":"48Ca+48Ca","x":-4.5,"y":0.61,"lo":0.05,"hi":1.4},{"z":8,"s":"48Ca+48Ca","x":-3.5,"y":32},{"z":8,"s":"48Ca+48Ca","x":-2.5,"y":81},{"z":8,"s":"48Ca+48Ca","x":-1.5,"y":235},{"z":8,"s":"48Ca+48Ca","x":-0.5,"y":270},{"z":8,"s":"48Ca+48Ca","x":0.5,"y":2500},{"z":8,"s":"48Ca+48Ca","x":1.5,"y":1040},{"z":8,"s":"48Ca+48Ca","x":2.5,"y":315},{"z":8,"s":"48Ca+48Ca","x":3.5,"y":90},{"z":8,"s":"48Ca+48Ca","x":4.5,"y":7.8},{"z":8,"s":"48Ca+48Ca","x":5.5,"y":0.59,"lo":0.05,"hi":1.36},
{"z":12,"s":"40Ca+40Ca","x":-4.5,"y":0.23,"lo":0.05,"hi":0.69},{"z":12,"s":"40Ca+40Ca","x":-3.5,"y":12.6},{"z":12,"s":"40Ca+40Ca","x":-2.5,"y":64},{"z":12,"s":"40Ca+40Ca","x":-1.5,"y":250},{"z":12,"s":"40Ca+40Ca","x":-0.5,"y":870},{"z":12,"s":"40Ca+40Ca","x":0.5,"y":10500},{"z":12,"s":"40Ca+40Ca","x":1.5,"y":2280},{"z":12,"s":"40Ca+40Ca","x":2.5,"y":240},{"z":12,"s":"40Ca+40Ca","x":3.5,"y":27.5},{"z":12,"s":"40Ca+40Ca","x":4.5,"y":0.61,"lo":0.05,"hi":1.4},{"z":12,"s":"40Ca+40Ca","x":5.5,"y":0.22,"lo":0.05,"hi":0.66},
{"z":12,"s":"40Ca+48Ca","x":-4.5,"y":0.3,"lo":0.05,"hi":0.9},{"z":12,"s":"40Ca+48Ca","x":-3.5,"y":23},{"z":12,"s":"40Ca+48Ca","x":-2.5,"y":84},{"z":12,"s":"40Ca+48Ca","x":-1.5,"y":270},{"z":12,"s":"40Ca+48Ca","x":-0.5,"y":690},{"z":12,"s":"40Ca+48Ca","x":0.5,"y":9700},{"z":12,"s":"40Ca+48Ca","x":1.5,"y":2600},{"z":12,"s":"40Ca+48Ca","x":2.5,"y":415},{"z":12,"s":"40Ca+48Ca","x":3.5,"y":54},{"z":12,"s":"40Ca+48Ca","x":4.5,"y":2.1,"lo":0.05,"hi":4.6},
{"z":12,"s":"48Ca+40Ca","x":-3.5,"y":1.17,"lo":0.05,"hi":2.6},{"z":12,"s":"48Ca+40Ca","x":-2.5,"y":9.2},{"z":12,"s":"48Ca+40Ca","x":-1.5,"y":54},{"z":12,"s":"48Ca+40Ca","x":-0.5,"y":100},{"z":12,"s":"48Ca+40Ca","x":0.5,"y":970},{"z":12,"s":"48Ca+40Ca","x":1.5,"y":690},{"z":12,"s":"48Ca+40Ca","x":2.5,"y":225},{"z":12,"s":"48Ca+40Ca","x":3.5,"y":76},{"z":12,"s":"48Ca+40Ca","x":4.5,"y":7.5},{"z":12,"s":"48Ca+40Ca","x":5.5,"y":1.17,"lo":0.41,"hi":2.6},
{"z":12,"s":"48Ca+48Ca","x":-3.5,"y":3.9,"lo":2.3,"hi":5.9},{"z":12,"s":"48Ca+48Ca","x":-2.5,"y":25.6},{"z":12,"s":"48Ca+48Ca","x":-1.5,"y":160},{"z":12,"s":"48Ca+48Ca","x":-0.5,"y":295},{"z":12,"s":"48Ca+48Ca","x":0.5,"y":3180},{"z":12,"s":"48Ca+48Ca","x":1.5,"y":2500},{"z":12,"s":"48Ca+48Ca","x":2.5,"y":1150},{"z":12,"s":"48Ca+48Ca","x":3.5,"y":460},{"z":12,"s":"48Ca+48Ca","x":4.5,"y":64},{"z":12,"s":"48Ca+48Ca","x":5.5,"y":13},{"z":12,"s":"48Ca+48Ca","x":6.5,"y":1.09,"lo":0.05,"hi":2.4},
{"z":16,"s":"40Ca+40Ca","x":-3.5,"y":0.86,"lo":0.05,"hi":2},{"z":16,"s":"40Ca+40Ca","x":-2.5,"y":5.9,"lo":3.5,"hi":8.9},{"z":16,"s":"40Ca+40Ca","x":-1.5,"y":64},{"z":16,"s":"40Ca+40Ca","x":-0.5,"y":580},{"z":16,"s":"40Ca+40Ca","x":0.5,"y":13200},{"z":16,"s":"40Ca+40Ca","x":1.5,"y":4000},{"z":16,"s":"40Ca+40Ca","x":2.5,"y":580},{"z":16,"s":"40Ca+40Ca","x":3.5,"y":54},{"z":16,"s":"40Ca+40Ca","x":4.5,"y":2.8,"lo":0.98,"hi":6.2},{"z":16,"s":"40Ca+40Ca","x":5.5,"y":0.47,"lo":0.05,"hi":1.4},{"z":16,"s":"40Ca+40Ca","x":7.5,"y":0.14,"lo":0.05,"hi":0.42},
{"z":16,"s":"40Ca+48Ca","x":-3.5,"y":0.92,"lo":0.05,"hi":2.1},{"z":16,"s":"40Ca+48Ca","x":-2.5,"y":6.6,"lo":4,"hi":9.9},{"z":16,"s":"40Ca+48Ca","x":-1.5,"y":71},{"z":16,"s":"40Ca+48Ca","x":-0.5,"y":415},{"z":16,"s":"40Ca+48Ca","x":0.5,"y":12400},{"z":16,"s":"40Ca+48Ca","x":1.5,"y":5300},{"z":16,"s":"40Ca+48Ca","x":2.5,"y":820},{"z":16,"s":"40Ca+48Ca","x":3.5,"y":126},{"z":16,"s":"40Ca+48Ca","x":4.5,"y":7.1},{"z":16,"s":"40Ca+48Ca","x":5.5,"y":0.13,"lo":0.05,"hi":0.39},
{"z":16,"s":"48Ca+40Ca","x":-2.5,"y":1.29,"lo":0.45,"hi":2.8},{"z":16,"s":"48Ca+40Ca","x":-1.5,"y":32},{"z":16,"s":"48Ca+40Ca","x":-0.5,"y":150},{"z":16,"s":"48Ca+40Ca","x":0.5,"y":1360},{"z":16,"s":"48Ca+40Ca","x":1.5,"y":1780},{"z":16,"s":"48Ca+40Ca","x":2.5,"y":1500},{"z":16,"s":"48Ca+40Ca","x":3.5,"y":760},{"z":16,"s":"48Ca+40Ca","x":4.5,"y":210},{"z":16,"s":"48Ca+40Ca","x":5.5,"y":46},{"z":16,"s":"48Ca+40Ca","x":6.5,"y":6.3,"lo":3.8,"hi":9.5},{"z":16,"s":"48Ca+40Ca","x":7.5,"y":2.1,"lo":0.74,"hi":4.6},{"z":16,"s":"48Ca+40Ca","x":8.5,"y":0.47,"lo":0.05,"hi":1.4},
{"z":16,"s":"48Ca+48Ca","x":-2.5,"y":0.61,"lo":0.05,"hi":1.4},{"z":16,"s":"48Ca+48Ca","x":-1.5,"y":23},{"z":16,"s":"48Ca+48Ca","x":-0.5,"y":235},{"z":16,"s":"48Ca+48Ca","x":0.5,"y":2400},{"z":16,"s":"48Ca+48Ca","x":1.5,"y":3700},{"z":16,"s":"48Ca+48Ca","x":2.5,"y":2970},{"z":16,"s":"48Ca+48Ca","x":3.5,"y":2040},{"z":16,"s":"48Ca+48Ca","x":4.5,"y":760},{"z":16,"s":"48Ca+48Ca","x":5.5,"y":267},{"z":16,"s":"48Ca+48Ca","x":6.5,"y":58},{"z":16,"s":"48Ca+48Ca","x":7.5,"y":17.6},{"z":16,"s":"48Ca+48Ca","x":8.5,"y":2.3,"lo":0.05,"hi":5},{"z":16,"s":"48Ca+48Ca","x":9.5,"y":0.14,"lo":0.05,"hi":0.42},
{"z":20,"s":"40Ca+40Ca","x":-5.5,"y":0.28,"lo":0.05,"hi":0.84},{"z":20,"s":"40Ca+40Ca","x":-4.5,"y":0.25,"lo":0.05,"hi":0.75},{"z":20,"s":"40Ca+40Ca","x":-3.5,"y":2.8,"lo":0.05,"hi":6.2},{"z":20,"s":"40Ca+40Ca","x":-2.5,"y":60},{"z":20,"s":"40Ca+40Ca","x":-1.5,"y":135},{"z":20,"s":"40Ca+40Ca","x":-0.5,"y":178},{"z":20,"s":"40Ca+40Ca","x":0.5,"y":880},{"z":20,"s":"40Ca+40Ca","x":1.5,"y":16.5},{"z":20,"s":"40Ca+40Ca","x":2.5,"y":0.21,"lo":0.05,"hi":0.63},
{"z":20,"s":"40Ca+48Ca","x":-4.5,"y":0.13,"lo":0.05,"hi":0.39},{"z":20,"s":"40Ca+48Ca","x":-3.5,"y":0.25,"lo":0.05,"hi":0.75},{"z":20,"s":"40Ca+48Ca","x":-2.5,"y":7.5},{"z":20,"s":"40Ca+48Ca","x":-1.5,"y":50},{"z":20,"s":"40Ca+48Ca","x":-0.5,"y":139},{"z":20,"s":"40Ca+48Ca","x":0.5,"y":1250},{"z":20,"s":"40Ca+48Ca","x":1.5,"y":29.6},{"z":20,"s":"40Ca+48Ca","x":2.5,"y":0.98,"lo":0.05,"hi":2.2},{"z":20,"s":"40Ca+48Ca","x":3.5,"y":0.25,"lo":0.05,"hi":0.75},
{"z":20,"s":"48Ca+40Ca","x":-2.5,"y":0.44,"lo":0.05,"hi":1.3},{"z":20,"s":"48Ca+40Ca","x":-1.5,"y":1.8,"lo":0.05,"hi":4},{"z":20,"s":"48Ca+40Ca","x":-0.5,"y":11},{"z":20,"s":"48Ca+40Ca","x":0.5,"y":165},{"z":20,"s":"48Ca+40Ca","x":1.5,"y":490},{"z":20,"s":"48Ca+40Ca","x":2.5,"y":815},{"z":20,"s":"48Ca+40Ca","x":3.5,"y":970},{"z":20,"s":"48Ca+40Ca","x":4.5,"y":490},{"z":20,"s":"48Ca+40Ca","x":5.5,"y":210},{"z":20,"s":"48Ca+40Ca","x":6.5,"y":69},{"z":20,"s":"48Ca+40Ca","x":7.5,"y":49},{"z":20,"s":"48Ca+40Ca","x":8.5,"y":0.73,"lo":0.05,"hi":1.7},{"z":20,"s":"48Ca+40Ca","x":9.5,"y":0.23,"lo":0.05,"hi":0.69},
{"z":20,"s":"48Ca+48Ca","x":-2.5,"y":1.53,"lo":0.05,"hi":3.4},{"z":20,"s":"48Ca+48Ca","x":-1.5,"y":11},{"z":20,"s":"48Ca+48Ca","x":-0.5,"y":19.5},{"z":20,"s":"48Ca+48Ca","x":0.5,"y":267},{"z":20,"s":"48Ca+48Ca","x":1.5,"y":630},{"z":20,"s":"48Ca+48Ca","x":2.5,"y":1230},{"z":20,"s":"48Ca+48Ca","x":3.5,"y":1450},{"z":20,"s":"48Ca+48Ca","x":4.5,"y":1070},{"z":20,"s":"48Ca+48Ca","x":5.5,"y":545},{"z":20,"s":"48Ca+48Ca","x":6.5,"y":196},{"z":20,"s":"48Ca+48Ca","x":7.5,"y":107},{"z":20,"s":"48Ca+48Ca","x":8.5,"y":2.5,"lo":0.05,"hi":5.5},{"z":20,"s":"48Ca+48Ca","x":9.5,"y":1.53,"lo":0.05,"hi":3.4},{"z":20,"s":"48Ca+48Ca","x":10.5,"y":0.33,"lo":0.05,"hi":1}
]},
"columns": 4,
"spacing": 0,
"bounds": "flush",
"align": "each",
"concat": [
{"width": 203, "height": 142, "transform": [{"filter": "datum.z == 5"}], "title": {"text": "Z=5", "anchor": "start", "frame": "group", "offset": -35, "baseline": "alphabetic", "dx": 12, "dy": 22}, "resolve": {"axis": {"x": "independent", "y": "independent"}},
 "layer": [
  {"mark": {"type": "tick", "orient": "horizontal", "size": 10.7, "thickness": 1.2, "color": "#2b2bb0", "clip": true}, "encoding": {"x": {"field": "x", "type": "quantitative", "scale": {"domain": [-6, 13], "nice": false, "zero": false}, "axis": {"orient": "bottom", "values": [-6,-4,-2,0,2,4,6,8,10,12], "tickSize": -7, "labels": false, "title": null}}, "y": {"field": "y", "type": "quantitative", "scale": {"type": "log", "domain": [0.112, 52000], "nice": false}, "axis": {"orient": "left", "values": [1,10,100,1000,10000], "tickSize": -8, "labelPadding": 13, "labelExpr": "datum.value == 1 ? '1' : datum.value == 10 ? '10' : datum.value == 100 ? '10²' : datum.value == 1000 ? '10³' : '10⁴'", "title": "Y(a.u.)", "titleX": -37, "titleY": 9, "titleAlign": "right", "titleAngle": -90, "titleBaseline": "alphabetic"}}}},
  {"transform": [{"filter": "isValid(datum.lo)"}], "mark": {"type": "rule", "color": "#2b2bb0", "strokeWidth": 1.2, "clip": true}, "encoding": {"x": {"field": "x", "type": "quantitative", "axis": {"orient": "top", "values": [-6,-4,-2,0,2,4,6,8,10,12], "tickSize": -7, "labels": false, "title": null}}, "y": {"field": "lo", "type": "quantitative", "axis": {"orient": "right", "values": [1,10,100,1000,10000], "tickSize": -8, "labels": false, "title": null}}, "y2": {"field": "hi"}}},
  {"mark": {"type": "point", "filled": true, "opacity": 1, "size": 82, "strokeWidth": 0, "clip": true}, "encoding": {"x": {"field": "x", "type": "quantitative", "axis": {"orient": "bottom", "values": [-5.333,-4.667,-3.333,-2.667,-1.333,-0.667,0.667,1.333,2.667,3.333,4.667,5.333,6.667,7.333,8.667,9.333,10.667,11.333,12.667], "tickSize": -3.5, "labels": false, "title": null}}, "y": {"field": "y", "type": "quantitative", "axis": {"orient": "left", "values": [0.2,0.3,0.4,0.5,0.6,0.7,0.8,0.9,2,3,4,5,6,7,8,9,20,30,40,50,60,70,80,90,200,300,400,500,600,700,800,900,2000,3000,4000,5000,6000,7000,8000,9000,20000,30000,40000,50000], "tickSize": -4, "labels": false, "title": null}}, "color": {"field": "s", "type": "nominal", "scale": {"domain": ["40Ca+40Ca","40Ca+48Ca","48Ca+40Ca","48Ca+48Ca"], "range": ["#ff00ff","#0000ff","#000000","#ff0000"]}, "legend": {"orient": "none", "legendX": 98, "legendY": 4, "title": null}}, "shape": {"field": "s", "type": "nominal", "scale": {"domain": ["40Ca+40Ca","40Ca+48Ca","48Ca+40Ca","48Ca+48Ca"], "range": ["circle","triangle-up","M0,-1L0.55,0L0,1L-0.55,0Z","square"]}, "legend": {"orient": "none", "legendX": 98, "legendY": 4, "title": null}}}},
  {"mark": {"type": "point", "opacity": 0}, "encoding": {"x": {"field": "x", "type": "quantitative", "axis": {"orient": "top", "values": [-5.333,-4.667,-3.333,-2.667,-1.333,-0.667,0.667,1.333,2.667,3.333,4.667,5.333,6.667,7.333,8.667,9.333,10.667,11.333,12.667], "tickSize": -3.5, "labels": false, "title": null}}, "y": {"field": "y", "type": "quantitative", "axis": {"orient": "right", "values": [0.2,0.3,0.4,0.5,0.6,0.7,0.8,0.9,2,3,4,5,6,7,8,9,20,30,40,50,60,70,80,90,200,300,400,500,600,700,800,900,2000,3000,4000,5000,6000,7000,8000,9000,20000,30000,40000,50000], "tickSize": -4, "labels": false, "title": null}}}}
 ]},
{"width": 252, "height": 142, "transform": [{"filter": "datum.z == 9"}], "title": {"text": "Z=9", "anchor": "start", "frame": "group", "offset": -35, "baseline": "alphabetic", "dx": 15, "dy": 22}, "resolve": {"axis": {"x": "independent", "y": "independent"}},
 "layer": [
  {"mark": {"type": "tick", "orient": "horizontal", "size": 13.3, "thickness": 1.2, "color": "#2b2bb0", "clip": true}, "encoding": {"x": {"field": "x", "type": "quantitative", "scale": {"domain": [-6, 13], "nice": false, "zero": false}, "axis": {"orient": "bottom", "values": [-6,-4,-2,0,2,4,6,8,10,12], "tickSize": -7, "labels": false, "title": null}}, "y": {"field": "y", "type": "quantitative", "scale": {"type": "log", "domain": [0.112, 52000], "nice": false}, "axis": {"orient": "left", "values": [1,10,100,1000,10000], "tickSize": -8, "labels": false, "title": null}}}},
  {"transform": [{"filter": "isValid(datum.lo)"}], "mark": {"type": "rule", "color": "#2b2bb0", "strokeWidth": 1.2, "clip": true}, "encoding": {"x": {"field": "x", "type": "quantitative", "axis": {"orient": "top", "values": [-6,-4,-2,0,2,4,6,8,10,12], "tickSize": -7, "labels": false, "title": null}}, "y": {"field": "lo", "type": "quantitative", "axis": {"orient": "right", "values": [1,10,100,1000,10000], "tickSize": -8, "labels": false, "title": null}}, "y2": {"field": "hi"}}},
  {"mark": {"type": "point", "filled": true, "opacity": 1, "size": 82, "strokeWidth": 0, "clip": true}, "encoding": {"x": {"field": "x", "type": "quantitative", "axis": {"orient": "bottom", "values": [-5.333,-4.667,-3.333,-2.667,-1.333,-0.667,0.667,1.333,2.667,3.333,4.667,5.333,6.667,7.333,8.667,9.333,10.667,11.333,12.667], "tickSize": -3.5, "labels": false, "title": null}}, "y": {"field": "y", "type": "quantitative", "axis": {"orient": "left", "values": [0.2,0.3,0.4,0.5,0.6,0.7,0.8,0.9,2,3,4,5,6,7,8,9,20,30,40,50,60,70,80,90,200,300,400,500,600,700,800,900,2000,3000,4000,5000,6000,7000,8000,9000,20000,30000,40000,50000], "tickSize": -4, "labels": false, "title": null}}, "color": {"field": "s", "type": "nominal", "scale": {"domain": ["40Ca+40Ca","40Ca+48Ca","48Ca+40Ca","48Ca+48Ca"], "range": ["#ff00ff","#0000ff","#000000","#ff0000"]}, "legend": {"orient": "none", "legendX": 98, "legendY": 4, "title": null}}, "shape": {"field": "s", "type": "nominal", "scale": {"domain": ["40Ca+40Ca","40Ca+48Ca","48Ca+40Ca","48Ca+48Ca"], "range": ["circle","triangle-up","M0,-1L0.55,0L0,1L-0.55,0Z","square"]}, "legend": {"orient": "none", "legendX": 98, "legendY": 4, "title": null}}}},
  {"mark": {"type": "point", "opacity": 0}, "encoding": {"x": {"field": "x", "type": "quantitative", "axis": {"orient": "top", "values": [-5.333,-4.667,-3.333,-2.667,-1.333,-0.667,0.667,1.333,2.667,3.333,4.667,5.333,6.667,7.333,8.667,9.333,10.667,11.333,12.667], "tickSize": -3.5, "labels": false, "title": null}}, "y": {"field": "y", "type": "quantitative", "axis": {"orient": "right", "values": [0.2,0.3,0.4,0.5,0.6,0.7,0.8,0.9,2,3,4,5,6,7,8,9,20,30,40,50,60,70,80,90,200,300,400,500,600,700,800,900,2000,3000,4000,5000,6000,7000,8000,9000,20000,30000,40000,50000], "tickSize": -4, "labels": false, "title": null}}}}
 ]},
{"width": 252, "height": 142, "transform": [{"filter": "datum.z == 13"}], "title": {"text": "Z=13", "anchor": "start", "frame": "group", "offset": -35, "baseline": "alphabetic", "dx": 12, "dy": 22}, "resolve": {"axis": {"x": "independent", "y": "independent"}},
 "layer": [
  {"mark": {"type": "tick", "orient": "horizontal", "size": 13.3, "thickness": 1.2, "color": "#2b2bb0", "clip": true}, "encoding": {"x": {"field": "x", "type": "quantitative", "scale": {"domain": [-6, 13], "nice": false, "zero": false}, "axis": {"orient": "bottom", "values": [-6,-4,-2,0,2,4,6,8,10,12], "tickSize": -7, "labels": false, "title": null}}, "y": {"field": "y", "type": "quantitative", "scale": {"type": "log", "domain": [0.112, 52000], "nice": false}, "axis": {"orient": "left", "values": [1,10,100,1000,10000], "tickSize": -8, "labels": false, "title": null}}}},
  {"transform": [{"filter": "isValid(datum.lo)"}], "mark": {"type": "rule", "color": "#2b2bb0", "strokeWidth": 1.2, "clip": true}, "encoding": {"x": {"field": "x", "type": "quantitative", "axis": {"orient": "top", "values": [-6,-4,-2,0,2,4,6,8,10,12], "tickSize": -7, "labels": false, "title": null}}, "y": {"field": "lo", "type": "quantitative", "axis": {"orient": "right", "values": [1,10,100,1000,10000], "tickSize": -8, "labels": false, "title": null}}, "y2": {"field": "hi"}}},
  {"mark": {"type": "point", "filled": true, "opacity": 1, "size": 82, "strokeWidth": 0, "clip": true}, "encoding": {"x": {"field": "x", "type": "quantitative", "axis": {"orient": "bottom", "values": [-5.333,-4.667,-3.333,-2.667,-1.333,-0.667,0.667,1.333,2.667,3.333,4.667,5.333,6.667,7.333,8.667,9.333,10.667,11.333,12.667], "tickSize": -3.5, "labels": false, "title": null}}, "y": {"field": "y", "type": "quantitative", "axis": {"orient": "left", "values": [0.2,0.3,0.4,0.5,0.6,0.7,0.8,0.9,2,3,4,5,6,7,8,9,20,30,40,50,60,70,80,90,200,300,400,500,600,700,800,900,2000,3000,4000,5000,6000,7000,8000,9000,20000,30000,40000,50000], "tickSize": -4, "labels": false, "title": null}}, "color": {"field": "s", "type": "nominal", "scale": {"domain": ["40Ca+40Ca","40Ca+48Ca","48Ca+40Ca","48Ca+48Ca"], "range": ["#ff00ff","#0000ff","#000000","#ff0000"]}, "legend": {"orient": "none", "legendX": 98, "legendY": 4, "title": null}}, "shape": {"field": "s", "type": "nominal", "scale": {"domain": ["40Ca+40Ca","40Ca+48Ca","48Ca+40Ca","48Ca+48Ca"], "range": ["circle","triangle-up","M0,-1L0.55,0L0,1L-0.55,0Z","square"]}, "legend": {"orient": "none", "legendX": 98, "legendY": 4, "title": null}}}},
  {"mark": {"type": "point", "opacity": 0}, "encoding": {"x": {"field": "x", "type": "quantitative", "axis": {"orient": "top", "values": [-5.333,-4.667,-3.333,-2.667,-1.333,-0.667,0.667,1.333,2.667,3.333,4.667,5.333,6.667,7.333,8.667,9.333,10.667,11.333,12.667], "tickSize": -3.5, "labels": false, "title": null}}, "y": {"field": "y", "type": "quantitative", "axis": {"orient": "right", "values": [0.2,0.3,0.4,0.5,0.6,0.7,0.8,0.9,2,3,4,5,6,7,8,9,20,30,40,50,60,70,80,90,200,300,400,500,600,700,800,900,2000,3000,4000,5000,6000,7000,8000,9000,20000,30000,40000,50000], "tickSize": -4, "labels": false, "title": null}}}}
 ]},
{"width": 223, "height": 142, "transform": [{"filter": "datum.z == 17"}], "title": {"text": "Z=17", "anchor": "start", "frame": "group", "offset": -35, "baseline": "alphabetic", "dx": 13, "dy": 22}, "resolve": {"axis": {"x": "independent", "y": "independent"}},
 "layer": [
  {"mark": {"type": "tick", "orient": "horizontal", "size": 11.7, "thickness": 1.2, "color": "#2b2bb0", "clip": true}, "encoding": {"x": {"field": "x", "type": "quantitative", "scale": {"domain": [-6, 13], "nice": false, "zero": false}, "axis": {"orient": "bottom", "values": [-6,-4,-2,0,2,4,6,8,10,12], "tickSize": -7, "labels": false, "title": null}}, "y": {"field": "y", "type": "quantitative", "scale": {"type": "log", "domain": [0.112, 52000], "nice": false}, "axis": {"orient": "left", "values": [1,10,100,1000,10000], "tickSize": -8, "labels": false, "title": null}}}},
  {"transform": [{"filter": "isValid(datum.lo)"}], "mark": {"type": "rule", "color": "#2b2bb0", "strokeWidth": 1.2, "clip": true}, "encoding": {"x": {"field": "x", "type": "quantitative", "axis": {"orient": "top", "values": [-6,-4,-2,0,2,4,6,8,10,12], "tickSize": -7, "labels": false, "title": null}}, "y": {"field": "lo", "type": "quantitative", "axis": {"orient": "right", "values": [1,10,100,1000,10000], "tickSize": -8, "labels": false, "title": null}}, "y2": {"field": "hi"}}},
  {"mark": {"type": "point", "filled": true, "opacity": 1, "size": 82, "strokeWidth": 0, "clip": true}, "encoding": {"x": {"field": "x", "type": "quantitative", "axis": {"orient": "bottom", "values": [-5.333,-4.667,-3.333,-2.667,-1.333,-0.667,0.667,1.333,2.667,3.333,4.667,5.333,6.667,7.333,8.667,9.333,10.667,11.333,12.667], "tickSize": -3.5, "labels": false, "title": null}}, "y": {"field": "y", "type": "quantitative", "axis": {"orient": "left", "values": [0.2,0.3,0.4,0.5,0.6,0.7,0.8,0.9,2,3,4,5,6,7,8,9,20,30,40,50,60,70,80,90,200,300,400,500,600,700,800,900,2000,3000,4000,5000,6000,7000,8000,9000,20000,30000,40000,50000], "tickSize": -4, "labels": false, "title": null}}, "color": {"field": "s", "type": "nominal", "scale": {"domain": ["40Ca+40Ca","40Ca+48Ca","48Ca+40Ca","48Ca+48Ca"], "range": ["#ff00ff","#0000ff","#000000","#ff0000"]}, "legend": {"orient": "none", "legendX": 98, "legendY": 4, "title": null}}, "shape": {"field": "s", "type": "nominal", "scale": {"domain": ["40Ca+40Ca","40Ca+48Ca","48Ca+40Ca","48Ca+48Ca"], "range": ["circle","triangle-up","M0,-1L0.55,0L0,1L-0.55,0Z","square"]}, "legend": {"orient": "none", "legendX": 98, "legendY": 4, "title": null}}}},
  {"mark": {"type": "point", "opacity": 0}, "encoding": {"x": {"field": "x", "type": "quantitative", "axis": {"orient": "top", "values": [-5.333,-4.667,-3.333,-2.667,-1.333,-0.667,0.667,1.333,2.667,3.333,4.667,5.333,6.667,7.333,8.667,9.333,10.667,11.333,12.667], "tickSize": -3.5, "labels": false, "title": null}}, "y": {"field": "y", "type": "quantitative", "axis": {"orient": "right", "values": [0.2,0.3,0.4,0.5,0.6,0.7,0.8,0.9,2,3,4,5,6,7,8,9,20,30,40,50,60,70,80,90,200,300,400,500,600,700,800,900,2000,3000,4000,5000,6000,7000,8000,9000,20000,30000,40000,50000], "tickSize": -4, "labels": false, "title": null}}}}
 ]},
{"width": 203, "height": 160, "transform": [{"filter": "datum.z == 6"}], "title": {"text": "Z=6", "anchor": "start", "frame": "group", "offset": -35, "baseline": "alphabetic", "dx": 12, "dy": 22}, "resolve": {"axis": {"x": "independent", "y": "independent"}},
 "layer": [
  {"mark": {"type": "tick", "orient": "horizontal", "size": 10.7, "thickness": 1.2, "color": "#2b2bb0", "clip": true}, "encoding": {"x": {"field": "x", "type": "quantitative", "scale": {"domain": [-6, 13], "nice": false, "zero": false}, "axis": {"orient": "bottom", "values": [-6,-4,-2,0,2,4,6,8,10,12], "tickSize": -7, "labels": false, "title": null}}, "y": {"field": "y", "type": "quantitative", "scale": {"type": "log", "domain": [0.112, 52000], "nice": false}, "axis": {"orient": "left", "values": [1,10,100,1000,10000], "tickSize": -8, "labelPadding": 13, "labelExpr": "datum.value == 1 ? '1' : datum.value == 10 ? '10' : datum.value == 100 ? '10²' : datum.value == 1000 ? '10³' : '10⁴'", "title": "Y(a.u.)", "titleX": -37, "titleY": 2, "titleAlign": "right", "titleAngle": -90, "titleBaseline": "alphabetic"}}}},
  {"transform": [{"filter": "isValid(datum.lo)"}], "mark": {"type": "rule", "color": "#2b2bb0", "strokeWidth": 1.2, "clip": true}, "encoding": {"x": {"field": "x", "type": "quantitative", "axis": {"orient": "top", "values": [-6,-4,-2,0,2,4,6,8,10,12], "tickSize": -7, "labels": false, "title": null}}, "y": {"field": "lo", "type": "quantitative", "axis": {"orient": "right", "values": [1,10,100,1000,10000], "tickSize": -8, "labels": false, "title": null}}, "y2": {"field": "hi"}}},
  {"mark": {"type": "point", "filled": true, "opacity": 1, "size": 82, "strokeWidth": 0, "clip": true}, "encoding": {"x": {"field": "x", "type": "quantitative", "axis": {"orient": "bottom", "values": [-5.333,-4.667,-3.333,-2.667,-1.333,-0.667,0.667,1.333,2.667,3.333,4.667,5.333,6.667,7.333,8.667,9.333,10.667,11.333,12.667], "tickSize": -3.5, "labels": false, "title": null}}, "y": {"field": "y", "type": "quantitative", "axis": {"orient": "left", "values": [0.2,0.3,0.4,0.5,0.6,0.7,0.8,0.9,2,3,4,5,6,7,8,9,20,30,40,50,60,70,80,90,200,300,400,500,600,700,800,900,2000,3000,4000,5000,6000,7000,8000,9000,20000,30000,40000,50000], "tickSize": -4, "labels": false, "title": null}}, "color": {"field": "s", "type": "nominal", "scale": {"domain": ["40Ca+40Ca","40Ca+48Ca","48Ca+40Ca","48Ca+48Ca"], "range": ["#ff00ff","#0000ff","#000000","#ff0000"]}, "legend": {"orient": "none", "legendX": 98, "legendY": 4, "title": null}}, "shape": {"field": "s", "type": "nominal", "scale": {"domain": ["40Ca+40Ca","40Ca+48Ca","48Ca+40Ca","48Ca+48Ca"], "range": ["circle","triangle-up","M0,-1L0.55,0L0,1L-0.55,0Z","square"]}, "legend": {"orient": "none", "legendX": 98, "legendY": 4, "title": null}}}},
  {"mark": {"type": "point", "opacity": 0}, "encoding": {"x": {"field": "x", "type": "quantitative", "axis": {"orient": "top", "values": [-5.333,-4.667,-3.333,-2.667,-1.333,-0.667,0.667,1.333,2.667,3.333,4.667,5.333,6.667,7.333,8.667,9.333,10.667,11.333,12.667], "tickSize": -3.5, "labels": false, "title": null}}, "y": {"field": "y", "type": "quantitative", "axis": {"orient": "right", "values": [0.2,0.3,0.4,0.5,0.6,0.7,0.8,0.9,2,3,4,5,6,7,8,9,20,30,40,50,60,70,80,90,200,300,400,500,600,700,800,900,2000,3000,4000,5000,6000,7000,8000,9000,20000,30000,40000,50000], "tickSize": -4, "labels": false, "title": null}}}}
 ]},
{"width": 252, "height": 160, "transform": [{"filter": "datum.z == 10"}], "title": {"text": "Z=10", "anchor": "start", "frame": "group", "offset": -35, "baseline": "alphabetic", "dx": 15, "dy": 22}, "resolve": {"axis": {"x": "independent", "y": "independent"}},
 "layer": [
  {"mark": {"type": "tick", "orient": "horizontal", "size": 13.3, "thickness": 1.2, "color": "#2b2bb0", "clip": true}, "encoding": {"x": {"field": "x", "type": "quantitative", "scale": {"domain": [-6, 13], "nice": false, "zero": false}, "axis": {"orient": "bottom", "values": [-6,-4,-2,0,2,4,6,8,10,12], "tickSize": -7, "labels": false, "title": null}}, "y": {"field": "y", "type": "quantitative", "scale": {"type": "log", "domain": [0.112, 52000], "nice": false}, "axis": {"orient": "left", "values": [1,10,100,1000,10000], "tickSize": -8, "labels": false, "title": null}}}},
  {"transform": [{"filter": "isValid(datum.lo)"}], "mark": {"type": "rule", "color": "#2b2bb0", "strokeWidth": 1.2, "clip": true}, "encoding": {"x": {"field": "x", "type": "quantitative", "axis": {"orient": "top", "values": [-6,-4,-2,0,2,4,6,8,10,12], "tickSize": -7, "labels": false, "title": null}}, "y": {"field": "lo", "type": "quantitative", "axis": {"orient": "right", "values": [1,10,100,1000,10000], "tickSize": -8, "labels": false, "title": null}}, "y2": {"field": "hi"}}},
  {"mark": {"type": "point", "filled": true, "opacity": 1, "size": 82, "strokeWidth": 0, "clip": true}, "encoding": {"x": {"field": "x", "type": "quantitative", "axis": {"orient": "bottom", "values": [-5.333,-4.667,-3.333,-2.667,-1.333,-0.667,0.667,1.333,2.667,3.333,4.667,5.333,6.667,7.333,8.667,9.333,10.667,11.333,12.667], "tickSize": -3.5, "labels": false, "title": null}}, "y": {"field": "y", "type": "quantitative", "axis": {"orient": "left", "values": [0.2,0.3,0.4,0.5,0.6,0.7,0.8,0.9,2,3,4,5,6,7,8,9,20,30,40,50,60,70,80,90,200,300,400,500,600,700,800,900,2000,3000,4000,5000,6000,7000,8000,9000,20000,30000,40000,50000], "tickSize": -4, "labels": false, "title": null}}, "color": {"field": "s", "type": "nominal", "scale": {"domain": ["40Ca+40Ca","40Ca+48Ca","48Ca+40Ca","48Ca+48Ca"], "range": ["#ff00ff","#0000ff","#000000","#ff0000"]}, "legend": {"orient": "none", "legendX": 98, "legendY": 4, "title": null}}, "shape": {"field": "s", "type": "nominal", "scale": {"domain": ["40Ca+40Ca","40Ca+48Ca","48Ca+40Ca","48Ca+48Ca"], "range": ["circle","triangle-up","M0,-1L0.55,0L0,1L-0.55,0Z","square"]}, "legend": {"orient": "none", "legendX": 98, "legendY": 4, "title": null}}}},
  {"mark": {"type": "point", "opacity": 0}, "encoding": {"x": {"field": "x", "type": "quantitative", "axis": {"orient": "top", "values": [-5.333,-4.667,-3.333,-2.667,-1.333,-0.667,0.667,1.333,2.667,3.333,4.667,5.333,6.667,7.333,8.667,9.333,10.667,11.333,12.667], "tickSize": -3.5, "labels": false, "title": null}}, "y": {"field": "y", "type": "quantitative", "axis": {"orient": "right", "values": [0.2,0.3,0.4,0.5,0.6,0.7,0.8,0.9,2,3,4,5,6,7,8,9,20,30,40,50,60,70,80,90,200,300,400,500,600,700,800,900,2000,3000,4000,5000,6000,7000,8000,9000,20000,30000,40000,50000], "tickSize": -4, "labels": false, "title": null}}}}
 ]},
{"width": 252, "height": 160, "transform": [{"filter": "datum.z == 14"}], "title": {"text": "Z=14", "anchor": "start", "frame": "group", "offset": -35, "baseline": "alphabetic", "dx": 12, "dy": 22}, "resolve": {"axis": {"x": "independent", "y": "independent"}},
 "layer": [
  {"mark": {"type": "tick", "orient": "horizontal", "size": 13.3, "thickness": 1.2, "color": "#2b2bb0", "clip": true}, "encoding": {"x": {"field": "x", "type": "quantitative", "scale": {"domain": [-6, 13], "nice": false, "zero": false}, "axis": {"orient": "bottom", "values": [-6,-4,-2,0,2,4,6,8,10,12], "tickSize": -7, "labels": false, "title": null}}, "y": {"field": "y", "type": "quantitative", "scale": {"type": "log", "domain": [0.112, 52000], "nice": false}, "axis": {"orient": "left", "values": [1,10,100,1000,10000], "tickSize": -8, "labels": false, "title": null}}}},
  {"transform": [{"filter": "isValid(datum.lo)"}], "mark": {"type": "rule", "color": "#2b2bb0", "strokeWidth": 1.2, "clip": true}, "encoding": {"x": {"field": "x", "type": "quantitative", "axis": {"orient": "top", "values": [-6,-4,-2,0,2,4,6,8,10,12], "tickSize": -7, "labels": false, "title": null}}, "y": {"field": "lo", "type": "quantitative", "axis": {"orient": "right", "values": [1,10,100,1000,10000], "tickSize": -8, "labels": false, "title": null}}, "y2": {"field": "hi"}}},
  {"mark": {"type": "point", "filled": true, "opacity": 1, "size": 82, "strokeWidth": 0, "clip": true}, "encoding": {"x": {"field": "x", "type": "quantitative", "axis": {"orient": "bottom", "values": [-5.333,-4.667,-3.333,-2.667,-1.333,-0.667,0.667,1.333,2.667,3.333,4.667,5.333,6.667,7.333,8.667,9.333,10.667,11.333,12.667], "tickSize": -3.5, "labels": false, "title": null}}, "y": {"field": "y", "type": "quantitative", "axis": {"orient": "left", "values": [0.2,0.3,0.4,0.5,0.6,0.7,0.8,0.9,2,3,4,5,6,7,8,9,20,30,40,50,60,70,80,90,200,300,400,500,600,700,800,900,2000,3000,4000,5000,6000,7000,8000,9000,20000,30000,40000,50000], "tickSize": -4, "labels": false, "title": null}}, "color": {"field": "s", "type": "nominal", "scale": {"domain": ["40Ca+40Ca","40Ca+48Ca","48Ca+40Ca","48Ca+48Ca"], "range": ["#ff00ff","#0000ff","#000000","#ff0000"]}, "legend": {"orient": "none", "legendX": 98, "legendY": 4, "title": null}}, "shape": {"field": "s", "type": "nominal", "scale": {"domain": ["40Ca+40Ca","40Ca+48Ca","48Ca+40Ca","48Ca+48Ca"], "range": ["circle","triangle-up","M0,-1L0.55,0L0,1L-0.55,0Z","square"]}, "legend": {"orient": "none", "legendX": 98, "legendY": 4, "title": null}}}},
  {"mark": {"type": "point", "opacity": 0}, "encoding": {"x": {"field": "x", "type": "quantitative", "axis": {"orient": "top", "values": [-5.333,-4.667,-3.333,-2.667,-1.333,-0.667,0.667,1.333,2.667,3.333,4.667,5.333,6.667,7.333,8.667,9.333,10.667,11.333,12.667], "tickSize": -3.5, "labels": false, "title": null}}, "y": {"field": "y", "type": "quantitative", "axis": {"orient": "right", "values": [0.2,0.3,0.4,0.5,0.6,0.7,0.8,0.9,2,3,4,5,6,7,8,9,20,30,40,50,60,70,80,90,200,300,400,500,600,700,800,900,2000,3000,4000,5000,6000,7000,8000,9000,20000,30000,40000,50000], "tickSize": -4, "labels": false, "title": null}}}}
 ]},
{"width": 223, "height": 160, "transform": [{"filter": "datum.z == 18"}], "title": {"text": "Z=18", "anchor": "start", "frame": "group", "offset": -35, "baseline": "alphabetic", "dx": 13, "dy": 22}, "resolve": {"axis": {"x": "independent", "y": "independent"}},
 "layer": [
  {"mark": {"type": "tick", "orient": "horizontal", "size": 11.7, "thickness": 1.2, "color": "#2b2bb0", "clip": true}, "encoding": {"x": {"field": "x", "type": "quantitative", "scale": {"domain": [-6, 13], "nice": false, "zero": false}, "axis": {"orient": "bottom", "values": [-6,-4,-2,0,2,4,6,8,10,12], "tickSize": -7, "labels": false, "title": null}}, "y": {"field": "y", "type": "quantitative", "scale": {"type": "log", "domain": [0.112, 52000], "nice": false}, "axis": {"orient": "left", "values": [1,10,100,1000,10000], "tickSize": -8, "labels": false, "title": null}}}},
  {"transform": [{"filter": "isValid(datum.lo)"}], "mark": {"type": "rule", "color": "#2b2bb0", "strokeWidth": 1.2, "clip": true}, "encoding": {"x": {"field": "x", "type": "quantitative", "axis": {"orient": "top", "values": [-6,-4,-2,0,2,4,6,8,10,12], "tickSize": -7, "labels": false, "title": null}}, "y": {"field": "lo", "type": "quantitative", "axis": {"orient": "right", "values": [1,10,100,1000,10000], "tickSize": -8, "labels": false, "title": null}}, "y2": {"field": "hi"}}},
  {"mark": {"type": "point", "filled": true, "opacity": 1, "size": 82, "strokeWidth": 0, "clip": true}, "encoding": {"x": {"field": "x", "type": "quantitative", "axis": {"orient": "bottom", "values": [-5.333,-4.667,-3.333,-2.667,-1.333,-0.667,0.667,1.333,2.667,3.333,4.667,5.333,6.667,7.333,8.667,9.333,10.667,11.333,12.667], "tickSize": -3.5, "labels": false, "title": null}}, "y": {"field": "y", "type": "quantitative", "axis": {"orient": "left", "values": [0.2,0.3,0.4,0.5,0.6,0.7,0.8,0.9,2,3,4,5,6,7,8,9,20,30,40,50,60,70,80,90,200,300,400,500,600,700,800,900,2000,3000,4000,5000,6000,7000,8000,9000,20000,30000,40000,50000], "tickSize": -4, "labels": false, "title": null}}, "color": {"field": "s", "type": "nominal", "scale": {"domain": ["40Ca+40Ca","40Ca+48Ca","48Ca+40Ca","48Ca+48Ca"], "range": ["#ff00ff","#0000ff","#000000","#ff0000"]}, "legend": {"orient": "none", "legendX": 98, "legendY": 4, "title": null}}, "shape": {"field": "s", "type": "nominal", "scale": {"domain": ["40Ca+40Ca","40Ca+48Ca","48Ca+40Ca","48Ca+48Ca"], "range": ["circle","triangle-up","M0,-1L0.55,0L0,1L-0.55,0Z","square"]}, "legend": {"orient": "none", "legendX": 98, "legendY": 4, "title": null}}}},
  {"mark": {"type": "point", "opacity": 0}, "encoding": {"x": {"field": "x", "type": "quantitative", "axis": {"orient": "top", "values": [-5.333,-4.667,-3.333,-2.667,-1.333,-0.667,0.667,1.333,2.667,3.333,4.667,5.333,6.667,7.333,8.667,9.333,10.667,11.333,12.667], "tickSize": -3.5, "labels": false, "title": null}}, "y": {"field": "y", "type": "quantitative", "axis": {"orient": "right", "values": [0.2,0.3,0.4,0.5,0.6,0.7,0.8,0.9,2,3,4,5,6,7,8,9,20,30,40,50,60,70,80,90,200,300,400,500,600,700,800,900,2000,3000,4000,5000,6000,7000,8000,9000,20000,30000,40000,50000], "tickSize": -4, "labels": false, "title": null}}}}
 ]},
{"width": 203, "height": 160, "transform": [{"filter": "datum.z == 7"}], "title": {"text": "Z=7", "anchor": "start", "frame": "group", "offset": -35, "baseline": "alphabetic", "dx": 12, "dy": 22}, "resolve": {"axis": {"x": "independent", "y": "independent"}},
 "layer": [
  {"mark": {"type": "tick", "orient": "horizontal", "size": 10.7, "thickness": 1.2, "color": "#2b2bb0", "clip": true}, "encoding": {"x": {"field": "x", "type": "quantitative", "scale": {"domain": [-6, 13], "nice": false, "zero": false}, "axis": {"orient": "bottom", "values": [-6,-4,-2,0,2,4,6,8,10,12], "tickSize": -7, "labels": false, "title": null}}, "y": {"field": "y", "type": "quantitative", "scale": {"type": "log", "domain": [0.112, 52000], "nice": false}, "axis": {"orient": "left", "values": [1,10,100,1000,10000], "tickSize": -8, "labelPadding": 13, "labelExpr": "datum.value == 1 ? '1' : datum.value == 10 ? '10' : datum.value == 100 ? '10²' : datum.value == 1000 ? '10³' : '10⁴'", "title": "Y(a.u.)", "titleX": -37, "titleY": 2, "titleAlign": "right", "titleAngle": -90, "titleBaseline": "alphabetic"}}}},
  {"transform": [{"filter": "isValid(datum.lo)"}], "mark": {"type": "rule", "color": "#2b2bb0", "strokeWidth": 1.2, "clip": true}, "encoding": {"x": {"field": "x", "type": "quantitative", "axis": {"orient": "top", "values": [-6,-4,-2,0,2,4,6,8,10,12], "tickSize": -7, "labels": false, "title": null}}, "y": {"field": "lo", "type": "quantitative", "axis": {"orient": "right", "values": [1,10,100,1000,10000], "tickSize": -8, "labels": false, "title": null}}, "y2": {"field": "hi"}}},
  {"mark": {"type": "point", "filled": true, "opacity": 1, "size": 82, "strokeWidth": 0, "clip": true}, "encoding": {"x": {"field": "x", "type": "quantitative", "axis": {"orient": "bottom", "values": [-5.333,-4.667,-3.333,-2.667,-1.333,-0.667,0.667,1.333,2.667,3.333,4.667,5.333,6.667,7.333,8.667,9.333,10.667,11.333,12.667], "tickSize": -3.5, "labels": false, "title": null}}, "y": {"field": "y", "type": "quantitative", "axis": {"orient": "left", "values": [0.2,0.3,0.4,0.5,0.6,0.7,0.8,0.9,2,3,4,5,6,7,8,9,20,30,40,50,60,70,80,90,200,300,400,500,600,700,800,900,2000,3000,4000,5000,6000,7000,8000,9000,20000,30000,40000,50000], "tickSize": -4, "labels": false, "title": null}}, "color": {"field": "s", "type": "nominal", "scale": {"domain": ["40Ca+40Ca","40Ca+48Ca","48Ca+40Ca","48Ca+48Ca"], "range": ["#ff00ff","#0000ff","#000000","#ff0000"]}, "legend": {"orient": "none", "legendX": 98, "legendY": 4, "title": null}}, "shape": {"field": "s", "type": "nominal", "scale": {"domain": ["40Ca+40Ca","40Ca+48Ca","48Ca+40Ca","48Ca+48Ca"], "range": ["circle","triangle-up","M0,-1L0.55,0L0,1L-0.55,0Z","square"]}, "legend": {"orient": "none", "legendX": 98, "legendY": 4, "title": null}}}},
  {"mark": {"type": "point", "opacity": 0}, "encoding": {"x": {"field": "x", "type": "quantitative", "axis": {"orient": "top", "values": [-5.333,-4.667,-3.333,-2.667,-1.333,-0.667,0.667,1.333,2.667,3.333,4.667,5.333,6.667,7.333,8.667,9.333,10.667,11.333,12.667], "tickSize": -3.5, "labels": false, "title": null}}, "y": {"field": "y", "type": "quantitative", "axis": {"orient": "right", "values": [0.2,0.3,0.4,0.5,0.6,0.7,0.8,0.9,2,3,4,5,6,7,8,9,20,30,40,50,60,70,80,90,200,300,400,500,600,700,800,900,2000,3000,4000,5000,6000,7000,8000,9000,20000,30000,40000,50000], "tickSize": -4, "labels": false, "title": null}}}}
 ]},
{"width": 252, "height": 160, "transform": [{"filter": "datum.z == 11"}], "title": {"text": "Z=11", "anchor": "start", "frame": "group", "offset": -35, "baseline": "alphabetic", "dx": 15, "dy": 22}, "resolve": {"axis": {"x": "independent", "y": "independent"}},
 "layer": [
  {"mark": {"type": "tick", "orient": "horizontal", "size": 13.3, "thickness": 1.2, "color": "#2b2bb0", "clip": true}, "encoding": {"x": {"field": "x", "type": "quantitative", "scale": {"domain": [-6, 13], "nice": false, "zero": false}, "axis": {"orient": "bottom", "values": [-6,-4,-2,0,2,4,6,8,10,12], "tickSize": -7, "labels": false, "title": null}}, "y": {"field": "y", "type": "quantitative", "scale": {"type": "log", "domain": [0.112, 52000], "nice": false}, "axis": {"orient": "left", "values": [1,10,100,1000,10000], "tickSize": -8, "labels": false, "title": null}}}},
  {"transform": [{"filter": "isValid(datum.lo)"}], "mark": {"type": "rule", "color": "#2b2bb0", "strokeWidth": 1.2, "clip": true}, "encoding": {"x": {"field": "x", "type": "quantitative", "axis": {"orient": "top", "values": [-6,-4,-2,0,2,4,6,8,10,12], "tickSize": -7, "labels": false, "title": null}}, "y": {"field": "lo", "type": "quantitative", "axis": {"orient": "right", "values": [1,10,100,1000,10000], "tickSize": -8, "labels": false, "title": null}}, "y2": {"field": "hi"}}},
  {"mark": {"type": "point", "filled": true, "opacity": 1, "size": 82, "strokeWidth": 0, "clip": true}, "encoding": {"x": {"field": "x", "type": "quantitative", "axis": {"orient": "bottom", "values": [-5.333,-4.667,-3.333,-2.667,-1.333,-0.667,0.667,1.333,2.667,3.333,4.667,5.333,6.667,7.333,8.667,9.333,10.667,11.333,12.667], "tickSize": -3.5, "labels": false, "title": null}}, "y": {"field": "y", "type": "quantitative", "axis": {"orient": "left", "values": [0.2,0.3,0.4,0.5,0.6,0.7,0.8,0.9,2,3,4,5,6,7,8,9,20,30,40,50,60,70,80,90,200,300,400,500,600,700,800,900,2000,3000,4000,5000,6000,7000,8000,9000,20000,30000,40000,50000], "tickSize": -4, "labels": false, "title": null}}, "color": {"field": "s", "type": "nominal", "scale": {"domain": ["40Ca+40Ca","40Ca+48Ca","48Ca+40Ca","48Ca+48Ca"], "range": ["#ff00ff","#0000ff","#000000","#ff0000"]}, "legend": {"orient": "none", "legendX": 98, "legendY": 4, "title": null}}, "shape": {"field": "s", "type": "nominal", "scale": {"domain": ["40Ca+40Ca","40Ca+48Ca","48Ca+40Ca","48Ca+48Ca"], "range": ["circle","triangle-up","M0,-1L0.55,0L0,1L-0.55,0Z","square"]}, "legend": {"orient": "none", "legendX": 98, "legendY": 4, "title": null}}}},
  {"mark": {"type": "point", "opacity": 0}, "encoding": {"x": {"field": "x", "type": "quantitative", "axis": {"orient": "top", "values": [-5.333,-4.667,-3.333,-2.667,-1.333,-0.667,0.667,1.333,2.667,3.333,4.667,5.333,6.667,7.333,8.667,9.333,10.667,11.333,12.667], "tickSize": -3.5, "labels": false, "title": null}}, "y": {"field": "y", "type": "quantitative", "axis": {"orient": "right", "values": [0.2,0.3,0.4,0.5,0.6,0.7,0.8,0.9,2,3,4,5,6,7,8,9,20,30,40,50,60,70,80,90,200,300,400,500,600,700,800,900,2000,3000,4000,5000,6000,7000,8000,9000,20000,30000,40000,50000], "tickSize": -4, "labels": false, "title": null}}}}
 ]},
{"width": 252, "height": 160, "transform": [{"filter": "datum.z == 15"}], "title": {"text": "Z=15", "anchor": "start", "frame": "group", "offset": -35, "baseline": "alphabetic", "dx": 12, "dy": 22}, "resolve": {"axis": {"x": "independent", "y": "independent"}},
 "layer": [
  {"mark": {"type": "tick", "orient": "horizontal", "size": 13.3, "thickness": 1.2, "color": "#2b2bb0", "clip": true}, "encoding": {"x": {"field": "x", "type": "quantitative", "scale": {"domain": [-6, 13], "nice": false, "zero": false}, "axis": {"orient": "bottom", "values": [-6,-4,-2,0,2,4,6,8,10,12], "tickSize": -7, "labels": false, "title": null}}, "y": {"field": "y", "type": "quantitative", "scale": {"type": "log", "domain": [0.112, 52000], "nice": false}, "axis": {"orient": "left", "values": [1,10,100,1000,10000], "tickSize": -8, "labels": false, "title": null}}}},
  {"transform": [{"filter": "isValid(datum.lo)"}], "mark": {"type": "rule", "color": "#2b2bb0", "strokeWidth": 1.2, "clip": true}, "encoding": {"x": {"field": "x", "type": "quantitative", "axis": {"orient": "top", "values": [-6,-4,-2,0,2,4,6,8,10,12], "tickSize": -7, "labels": false, "title": null}}, "y": {"field": "lo", "type": "quantitative", "axis": {"orient": "right", "values": [1,10,100,1000,10000], "tickSize": -8, "labels": false, "title": null}}, "y2": {"field": "hi"}}},
  {"mark": {"type": "point", "filled": true, "opacity": 1, "size": 82, "strokeWidth": 0, "clip": true}, "encoding": {"x": {"field": "x", "type": "quantitative", "axis": {"orient": "bottom", "values": [-5.333,-4.667,-3.333,-2.667,-1.333,-0.667,0.667,1.333,2.667,3.333,4.667,5.333,6.667,7.333,8.667,9.333,10.667,11.333,12.667], "tickSize": -3.5, "labels": false, "title": null}}, "y": {"field": "y", "type": "quantitative", "axis": {"orient": "left", "values": [0.2,0.3,0.4,0.5,0.6,0.7,0.8,0.9,2,3,4,5,6,7,8,9,20,30,40,50,60,70,80,90,200,300,400,500,600,700,800,900,2000,3000,4000,5000,6000,7000,8000,9000,20000,30000,40000,50000], "tickSize": -4, "labels": false, "title": null}}, "color": {"field": "s", "type": "nominal", "scale": {"domain": ["40Ca+40Ca","40Ca+48Ca","48Ca+40Ca","48Ca+48Ca"], "range": ["#ff00ff","#0000ff","#000000","#ff0000"]}, "legend": {"orient": "none", "legendX": 98, "legendY": 4, "title": null}}, "shape": {"field": "s", "type": "nominal", "scale": {"domain": ["40Ca+40Ca","40Ca+48Ca","48Ca+40Ca","48Ca+48Ca"], "range": ["circle","triangle-up","M0,-1L0.55,0L0,1L-0.55,0Z","square"]}, "legend": {"orient": "none", "legendX": 98, "legendY": 4, "title": null}}}},
  {"mark": {"type": "point", "opacity": 0}, "encoding": {"x": {"field": "x", "type": "quantitative", "axis": {"orient": "top", "values": [-5.333,-4.667,-3.333,-2.667,-1.333,-0.667,0.667,1.333,2.667,3.333,4.667,5.333,6.667,7.333,8.667,9.333,10.667,11.333,12.667], "tickSize": -3.5, "labels": false, "title": null}}, "y": {"field": "y", "type": "quantitative", "axis": {"orient": "right", "values": [0.2,0.3,0.4,0.5,0.6,0.7,0.8,0.9,2,3,4,5,6,7,8,9,20,30,40,50,60,70,80,90,200,300,400,500,600,700,800,900,2000,3000,4000,5000,6000,7000,8000,9000,20000,30000,40000,50000], "tickSize": -4, "labels": false, "title": null}}}}
 ]},
{"width": 223, "height": 160, "transform": [{"filter": "datum.z == 19"}], "title": {"text": "Z=19", "anchor": "start", "frame": "group", "offset": -35, "baseline": "alphabetic", "dx": 13, "dy": 22}, "resolve": {"axis": {"x": "independent", "y": "independent"}},
 "layer": [
  {"mark": {"type": "tick", "orient": "horizontal", "size": 11.7, "thickness": 1.2, "color": "#2b2bb0", "clip": true}, "encoding": {"x": {"field": "x", "type": "quantitative", "scale": {"domain": [-6, 13], "nice": false, "zero": false}, "axis": {"orient": "bottom", "values": [-6,-4,-2,0,2,4,6,8,10,12], "tickSize": -7, "labels": false, "title": null}}, "y": {"field": "y", "type": "quantitative", "scale": {"type": "log", "domain": [0.112, 52000], "nice": false}, "axis": {"orient": "left", "values": [1,10,100,1000,10000], "tickSize": -8, "labels": false, "title": null}}}},
  {"transform": [{"filter": "isValid(datum.lo)"}], "mark": {"type": "rule", "color": "#2b2bb0", "strokeWidth": 1.2, "clip": true}, "encoding": {"x": {"field": "x", "type": "quantitative", "axis": {"orient": "top", "values": [-6,-4,-2,0,2,4,6,8,10,12], "tickSize": -7, "labels": false, "title": null}}, "y": {"field": "lo", "type": "quantitative", "axis": {"orient": "right", "values": [1,10,100,1000,10000], "tickSize": -8, "labels": false, "title": null}}, "y2": {"field": "hi"}}},
  {"mark": {"type": "point", "filled": true, "opacity": 1, "size": 82, "strokeWidth": 0, "clip": true}, "encoding": {"x": {"field": "x", "type": "quantitative", "axis": {"orient": "bottom", "values": [-5.333,-4.667,-3.333,-2.667,-1.333,-0.667,0.667,1.333,2.667,3.333,4.667,5.333,6.667,7.333,8.667,9.333,10.667,11.333,12.667], "tickSize": -3.5, "labels": false, "title": null}}, "y": {"field": "y", "type": "quantitative", "axis": {"orient": "left", "values": [0.2,0.3,0.4,0.5,0.6,0.7,0.8,0.9,2,3,4,5,6,7,8,9,20,30,40,50,60,70,80,90,200,300,400,500,600,700,800,900,2000,3000,4000,5000,6000,7000,8000,9000,20000,30000,40000,50000], "tickSize": -4, "labels": false, "title": null}}, "color": {"field": "s", "type": "nominal", "scale": {"domain": ["40Ca+40Ca","40Ca+48Ca","48Ca+40Ca","48Ca+48Ca"], "range": ["#ff00ff","#0000ff","#000000","#ff0000"]}, "legend": {"orient": "none", "legendX": 98, "legendY": 4, "title": null}}, "shape": {"field": "s", "type": "nominal", "scale": {"domain": ["40Ca+40Ca","40Ca+48Ca","48Ca+40Ca","48Ca+48Ca"], "range": ["circle","triangle-up","M0,-1L0.55,0L0,1L-0.55,0Z","square"]}, "legend": {"orient": "none", "legendX": 98, "legendY": 4, "title": null}}}},
  {"mark": {"type": "point", "opacity": 0}, "encoding": {"x": {"field": "x", "type": "quantitative", "axis": {"orient": "top", "values": [-5.333,-4.667,-3.333,-2.667,-1.333,-0.667,0.667,1.333,2.667,3.333,4.667,5.333,6.667,7.333,8.667,9.333,10.667,11.333,12.667], "tickSize": -3.5, "labels": false, "title": null}}, "y": {"field": "y", "type": "quantitative", "axis": {"orient": "right", "values": [0.2,0.3,0.4,0.5,0.6,0.7,0.8,0.9,2,3,4,5,6,7,8,9,20,30,40,50,60,70,80,90,200,300,400,500,600,700,800,900,2000,3000,4000,5000,6000,7000,8000,9000,20000,30000,40000,50000], "tickSize": -4, "labels": false, "title": null}}}}
 ]},
{"width": 203, "height": 128, "transform": [{"filter": "datum.z == 8"}], "title": {"text": "Z=8", "anchor": "start", "frame": "group", "offset": -35, "baseline": "alphabetic", "dx": 12, "dy": 22}, "resolve": {"axis": {"x": "independent", "y": "independent"}},
 "layer": [
  {"mark": {"type": "tick", "orient": "horizontal", "size": 10.7, "thickness": 1.2, "color": "#2b2bb0", "clip": true}, "encoding": {"x": {"field": "x", "type": "quantitative", "scale": {"domain": [-6, 13], "nice": false, "zero": false}, "axis": {"orient": "bottom", "values": [-6,-4,-2,0,2,4,6,8,10,12], "tickSize": -7, "labelPadding": 9, "labelExpr": "datum.value < 0 ? '-' + (-datum.value) : '' + datum.value", "title": "NPLF-ZPLF", "titleX": 200, "titleY": 31, "titleAlign": "right", "titleBaseline": "alphabetic", "titleFontSize": 12}}, "y": {"field": "y", "type": "quantitative", "scale": {"type": "log", "domain": [0.112, 52000], "nice": false}, "axis": {"orient": "left", "values": [1,10,100,1000,10000], "tickSize": -8, "labelPadding": 13, "labelExpr": "datum.value == 1 ? '1' : datum.value == 10 ? '10' : datum.value == 100 ? '10²' : datum.value == 1000 ? '10³' : '10⁴'", "title": "Y(a.u.)", "titleX": -37, "titleY": 2, "titleAlign": "right", "titleAngle": -90, "titleBaseline": "alphabetic"}}}},
  {"transform": [{"filter": "isValid(datum.lo)"}], "mark": {"type": "rule", "color": "#2b2bb0", "strokeWidth": 1.2, "clip": true}, "encoding": {"x": {"field": "x", "type": "quantitative", "axis": {"orient": "top", "values": [-6,-4,-2,0,2,4,6,8,10,12], "tickSize": -7, "labels": false, "title": null}}, "y": {"field": "lo", "type": "quantitative", "axis": {"orient": "right", "values": [1,10,100,1000,10000], "tickSize": -8, "labels": false, "title": null}}, "y2": {"field": "hi"}}},
  {"mark": {"type": "point", "filled": true, "opacity": 1, "size": 82, "strokeWidth": 0, "clip": true}, "encoding": {"x": {"field": "x", "type": "quantitative", "axis": {"orient": "bottom", "values": [-5.333,-4.667,-3.333,-2.667,-1.333,-0.667,0.667,1.333,2.667,3.333,4.667,5.333,6.667,7.333,8.667,9.333,10.667,11.333,12.667], "tickSize": -3.5, "labels": false, "title": null}}, "y": {"field": "y", "type": "quantitative", "axis": {"orient": "left", "values": [0.2,0.3,0.4,0.5,0.6,0.7,0.8,0.9,2,3,4,5,6,7,8,9,20,30,40,50,60,70,80,90,200,300,400,500,600,700,800,900,2000,3000,4000,5000,6000,7000,8000,9000,20000,30000,40000,50000], "tickSize": -4, "labels": false, "title": null}}, "color": {"field": "s", "type": "nominal", "scale": {"domain": ["40Ca+40Ca","40Ca+48Ca","48Ca+40Ca","48Ca+48Ca"], "range": ["#ff00ff","#0000ff","#000000","#ff0000"]}, "legend": {"orient": "none", "legendX": 98, "legendY": 4, "title": null}}, "shape": {"field": "s", "type": "nominal", "scale": {"domain": ["40Ca+40Ca","40Ca+48Ca","48Ca+40Ca","48Ca+48Ca"], "range": ["circle","triangle-up","M0,-1L0.55,0L0,1L-0.55,0Z","square"]}, "legend": {"orient": "none", "legendX": 98, "legendY": 4, "title": null}}}},
  {"mark": {"type": "point", "opacity": 0}, "encoding": {"x": {"field": "x", "type": "quantitative", "axis": {"orient": "top", "values": [-5.333,-4.667,-3.333,-2.667,-1.333,-0.667,0.667,1.333,2.667,3.333,4.667,5.333,6.667,7.333,8.667,9.333,10.667,11.333,12.667], "tickSize": -3.5, "labels": false, "title": null}}, "y": {"field": "y", "type": "quantitative", "axis": {"orient": "right", "values": [0.2,0.3,0.4,0.5,0.6,0.7,0.8,0.9,2,3,4,5,6,7,8,9,20,30,40,50,60,70,80,90,200,300,400,500,600,700,800,900,2000,3000,4000,5000,6000,7000,8000,9000,20000,30000,40000,50000], "tickSize": -4, "labels": false, "title": null}}}}
 ]},
{"width": 252, "height": 128, "transform": [{"filter": "datum.z == 12"}], "title": {"text": "Z=12", "anchor": "start", "frame": "group", "offset": -35, "baseline": "alphabetic", "dx": 15, "dy": 22}, "resolve": {"axis": {"x": "independent", "y": "independent"}},
 "layer": [
  {"mark": {"type": "tick", "orient": "horizontal", "size": 13.3, "thickness": 1.2, "color": "#2b2bb0", "clip": true}, "encoding": {"x": {"field": "x", "type": "quantitative", "scale": {"domain": [-6, 13], "nice": false, "zero": false}, "axis": {"orient": "bottom", "values": [-6,-4,-2,0,2,4,6,8,10,12], "tickSize": -7, "labelPadding": 9, "labelExpr": "datum.value < 0 ? '-' + (-datum.value) : '' + datum.value", "title": "NPLF-ZPLF", "titleX": 249, "titleY": 31, "titleAlign": "right", "titleBaseline": "alphabetic", "titleFontSize": 12}}, "y": {"field": "y", "type": "quantitative", "scale": {"type": "log", "domain": [0.112, 52000], "nice": false}, "axis": {"orient": "left", "values": [1,10,100,1000,10000], "tickSize": -8, "labels": false, "title": null}}}},
  {"transform": [{"filter": "isValid(datum.lo)"}], "mark": {"type": "rule", "color": "#2b2bb0", "strokeWidth": 1.2, "clip": true}, "encoding": {"x": {"field": "x", "type": "quantitative", "axis": {"orient": "top", "values": [-6,-4,-2,0,2,4,6,8,10,12], "tickSize": -7, "labels": false, "title": null}}, "y": {"field": "lo", "type": "quantitative", "axis": {"orient": "right", "values": [1,10,100,1000,10000], "tickSize": -8, "labels": false, "title": null}}, "y2": {"field": "hi"}}},
  {"mark": {"type": "point", "filled": true, "opacity": 1, "size": 82, "strokeWidth": 0, "clip": true}, "encoding": {"x": {"field": "x", "type": "quantitative", "axis": {"orient": "bottom", "values": [-5.333,-4.667,-3.333,-2.667,-1.333,-0.667,0.667,1.333,2.667,3.333,4.667,5.333,6.667,7.333,8.667,9.333,10.667,11.333,12.667], "tickSize": -3.5, "labels": false, "title": null}}, "y": {"field": "y", "type": "quantitative", "axis": {"orient": "left", "values": [0.2,0.3,0.4,0.5,0.6,0.7,0.8,0.9,2,3,4,5,6,7,8,9,20,30,40,50,60,70,80,90,200,300,400,500,600,700,800,900,2000,3000,4000,5000,6000,7000,8000,9000,20000,30000,40000,50000], "tickSize": -4, "labels": false, "title": null}}, "color": {"field": "s", "type": "nominal", "scale": {"domain": ["40Ca+40Ca","40Ca+48Ca","48Ca+40Ca","48Ca+48Ca"], "range": ["#ff00ff","#0000ff","#000000","#ff0000"]}, "legend": {"orient": "none", "legendX": 98, "legendY": 4, "title": null}}, "shape": {"field": "s", "type": "nominal", "scale": {"domain": ["40Ca+40Ca","40Ca+48Ca","48Ca+40Ca","48Ca+48Ca"], "range": ["circle","triangle-up","M0,-1L0.55,0L0,1L-0.55,0Z","square"]}, "legend": {"orient": "none", "legendX": 98, "legendY": 4, "title": null}}}},
  {"mark": {"type": "point", "opacity": 0}, "encoding": {"x": {"field": "x", "type": "quantitative", "axis": {"orient": "top", "values": [-5.333,-4.667,-3.333,-2.667,-1.333,-0.667,0.667,1.333,2.667,3.333,4.667,5.333,6.667,7.333,8.667,9.333,10.667,11.333,12.667], "tickSize": -3.5, "labels": false, "title": null}}, "y": {"field": "y", "type": "quantitative", "axis": {"orient": "right", "values": [0.2,0.3,0.4,0.5,0.6,0.7,0.8,0.9,2,3,4,5,6,7,8,9,20,30,40,50,60,70,80,90,200,300,400,500,600,700,800,900,2000,3000,4000,5000,6000,7000,8000,9000,20000,30000,40000,50000], "tickSize": -4, "labels": false, "title": null}}}}
 ]},
{"width": 252, "height": 128, "transform": [{"filter": "datum.z == 16"}], "title": {"text": "Z=16", "anchor": "start", "frame": "group", "offset": -35, "baseline": "alphabetic", "dx": 12, "dy": 22}, "resolve": {"axis": {"x": "independent", "y": "independent"}},
 "layer": [
  {"mark": {"type": "tick", "orient": "horizontal", "size": 13.3, "thickness": 1.2, "color": "#2b2bb0", "clip": true}, "encoding": {"x": {"field": "x", "type": "quantitative", "scale": {"domain": [-6, 13], "nice": false, "zero": false}, "axis": {"orient": "bottom", "values": [-6,-4,-2,0,2,4,6,8,10,12], "tickSize": -7, "labelPadding": 9, "labelExpr": "datum.value < 0 ? '-' + (-datum.value) : '' + datum.value", "title": "NPLF-ZPLF", "titleX": 249, "titleY": 31, "titleAlign": "right", "titleBaseline": "alphabetic", "titleFontSize": 12}}, "y": {"field": "y", "type": "quantitative", "scale": {"type": "log", "domain": [0.112, 52000], "nice": false}, "axis": {"orient": "left", "values": [1,10,100,1000,10000], "tickSize": -8, "labels": false, "title": null}}}},
  {"transform": [{"filter": "isValid(datum.lo)"}], "mark": {"type": "rule", "color": "#2b2bb0", "strokeWidth": 1.2, "clip": true}, "encoding": {"x": {"field": "x", "type": "quantitative", "axis": {"orient": "top", "values": [-6,-4,-2,0,2,4,6,8,10,12], "tickSize": -7, "labels": false, "title": null}}, "y": {"field": "lo", "type": "quantitative", "axis": {"orient": "right", "values": [1,10,100,1000,10000], "tickSize": -8, "labels": false, "title": null}}, "y2": {"field": "hi"}}},
  {"mark": {"type": "point", "filled": true, "opacity": 1, "size": 82, "strokeWidth": 0, "clip": true}, "encoding": {"x": {"field": "x", "type": "quantitative", "axis": {"orient": "bottom", "values": [-5.333,-4.667,-3.333,-2.667,-1.333,-0.667,0.667,1.333,2.667,3.333,4.667,5.333,6.667,7.333,8.667,9.333,10.667,11.333,12.667], "tickSize": -3.5, "labels": false, "title": null}}, "y": {"field": "y", "type": "quantitative", "axis": {"orient": "left", "values": [0.2,0.3,0.4,0.5,0.6,0.7,0.8,0.9,2,3,4,5,6,7,8,9,20,30,40,50,60,70,80,90,200,300,400,500,600,700,800,900,2000,3000,4000,5000,6000,7000,8000,9000,20000,30000,40000,50000], "tickSize": -4, "labels": false, "title": null}}, "color": {"field": "s", "type": "nominal", "scale": {"domain": ["40Ca+40Ca","40Ca+48Ca","48Ca+40Ca","48Ca+48Ca"], "range": ["#ff00ff","#0000ff","#000000","#ff0000"]}, "legend": {"orient": "none", "legendX": 98, "legendY": 4, "title": null}}, "shape": {"field": "s", "type": "nominal", "scale": {"domain": ["40Ca+40Ca","40Ca+48Ca","48Ca+40Ca","48Ca+48Ca"], "range": ["circle","triangle-up","M0,-1L0.55,0L0,1L-0.55,0Z","square"]}, "legend": {"orient": "none", "legendX": 98, "legendY": 4, "title": null}}}},
  {"mark": {"type": "point", "opacity": 0}, "encoding": {"x": {"field": "x", "type": "quantitative", "axis": {"orient": "top", "values": [-5.333,-4.667,-3.333,-2.667,-1.333,-0.667,0.667,1.333,2.667,3.333,4.667,5.333,6.667,7.333,8.667,9.333,10.667,11.333,12.667], "tickSize": -3.5, "labels": false, "title": null}}, "y": {"field": "y", "type": "quantitative", "axis": {"orient": "right", "values": [0.2,0.3,0.4,0.5,0.6,0.7,0.8,0.9,2,3,4,5,6,7,8,9,20,30,40,50,60,70,80,90,200,300,400,500,600,700,800,900,2000,3000,4000,5000,6000,7000,8000,9000,20000,30000,40000,50000], "tickSize": -4, "labels": false, "title": null}}}}
 ]},
{"width": 223, "height": 128, "transform": [{"filter": "datum.z == 20"}], "title": {"text": "Z=20", "anchor": "start", "frame": "group", "offset": -35, "baseline": "alphabetic", "dx": 13, "dy": 22}, "resolve": {"axis": {"x": "independent", "y": "independent"}},
 "layer": [
  {"mark": {"type": "tick", "orient": "horizontal", "size": 11.7, "thickness": 1.2, "color": "#2b2bb0", "clip": true}, "encoding": {"x": {"field": "x", "type": "quantitative", "scale": {"domain": [-6, 13], "nice": false, "zero": false}, "axis": {"orient": "bottom", "values": [-6,-4,-2,0,2,4,6,8,10,12], "tickSize": -7, "labelPadding": 9, "labelExpr": "datum.value < 0 ? '-' + (-datum.value) : '' + datum.value", "title": "NPLF-ZPLF", "titleX": 220, "titleY": 31, "titleAlign": "right", "titleBaseline": "alphabetic", "titleFontSize": 12}}, "y": {"field": "y", "type": "quantitative", "scale": {"type": "log", "domain": [0.112, 52000], "nice": false}, "axis": {"orient": "left", "values": [1,10,100,1000,10000], "tickSize": -8, "labels": false, "title": null}}}},
  {"transform": [{"filter": "isValid(datum.lo)"}], "mark": {"type": "rule", "color": "#2b2bb0", "strokeWidth": 1.2, "clip": true}, "encoding": {"x": {"field": "x", "type": "quantitative", "axis": {"orient": "top", "values": [-6,-4,-2,0,2,4,6,8,10,12], "tickSize": -7, "labels": false, "title": null}}, "y": {"field": "lo", "type": "quantitative", "axis": {"orient": "right", "values": [1,10,100,1000,10000], "tickSize": -8, "labels": false, "title": null}}, "y2": {"field": "hi"}}},
  {"mark": {"type": "point", "filled": true, "opacity": 1, "size": 82, "strokeWidth": 0, "clip": true}, "encoding": {"x": {"field": "x", "type": "quantitative", "axis": {"orient": "bottom", "values": [-5.333,-4.667,-3.333,-2.667,-1.333,-0.667,0.667,1.333,2.667,3.333,4.667,5.333,6.667,7.333,8.667,9.333,10.667,11.333,12.667], "tickSize": -3.5, "labels": false, "title": null}}, "y": {"field": "y", "type": "quantitative", "axis": {"orient": "left", "values": [0.2,0.3,0.4,0.5,0.6,0.7,0.8,0.9,2,3,4,5,6,7,8,9,20,30,40,50,60,70,80,90,200,300,400,500,600,700,800,900,2000,3000,4000,5000,6000,7000,8000,9000,20000,30000,40000,50000], "tickSize": -4, "labels": false, "title": null}}, "color": {"field": "s", "type": "nominal", "scale": {"domain": ["40Ca+40Ca","40Ca+48Ca","48Ca+40Ca","48Ca+48Ca"], "range": ["#ff00ff","#0000ff","#000000","#ff0000"]}, "legend": {"orient": "none", "legendX": 98, "legendY": 4, "title": null}}, "shape": {"field": "s", "type": "nominal", "scale": {"domain": ["40Ca+40Ca","40Ca+48Ca","48Ca+40Ca","48Ca+48Ca"], "range": ["circle","triangle-up","M0,-1L0.55,0L0,1L-0.55,0Z","square"]}, "legend": {"orient": "none", "legendX": 98, "legendY": 4, "title": null}}}},
  {"mark": {"type": "point", "opacity": 0}, "encoding": {"x": {"field": "x", "type": "quantitative", "axis": {"orient": "top", "values": [-5.333,-4.667,-3.333,-2.667,-1.333,-0.667,0.667,1.333,2.667,3.333,4.667,5.333,6.667,7.333,8.667,9.333,10.667,11.333,12.667], "tickSize": -3.5, "labels": false, "title": null}}, "y": {"field": "y", "type": "quantitative", "axis": {"orient": "right", "values": [0.2,0.3,0.4,0.5,0.6,0.7,0.8,0.9,2,3,4,5,6,7,8,9,20,30,40,50,60,70,80,90,200,300,400,500,600,700,800,900,2000,3000,4000,5000,6000,7000,8000,9000,20000,30000,40000,50000], "tickSize": -4, "labels": false, "title": null}}}}
 ]}
]
}
